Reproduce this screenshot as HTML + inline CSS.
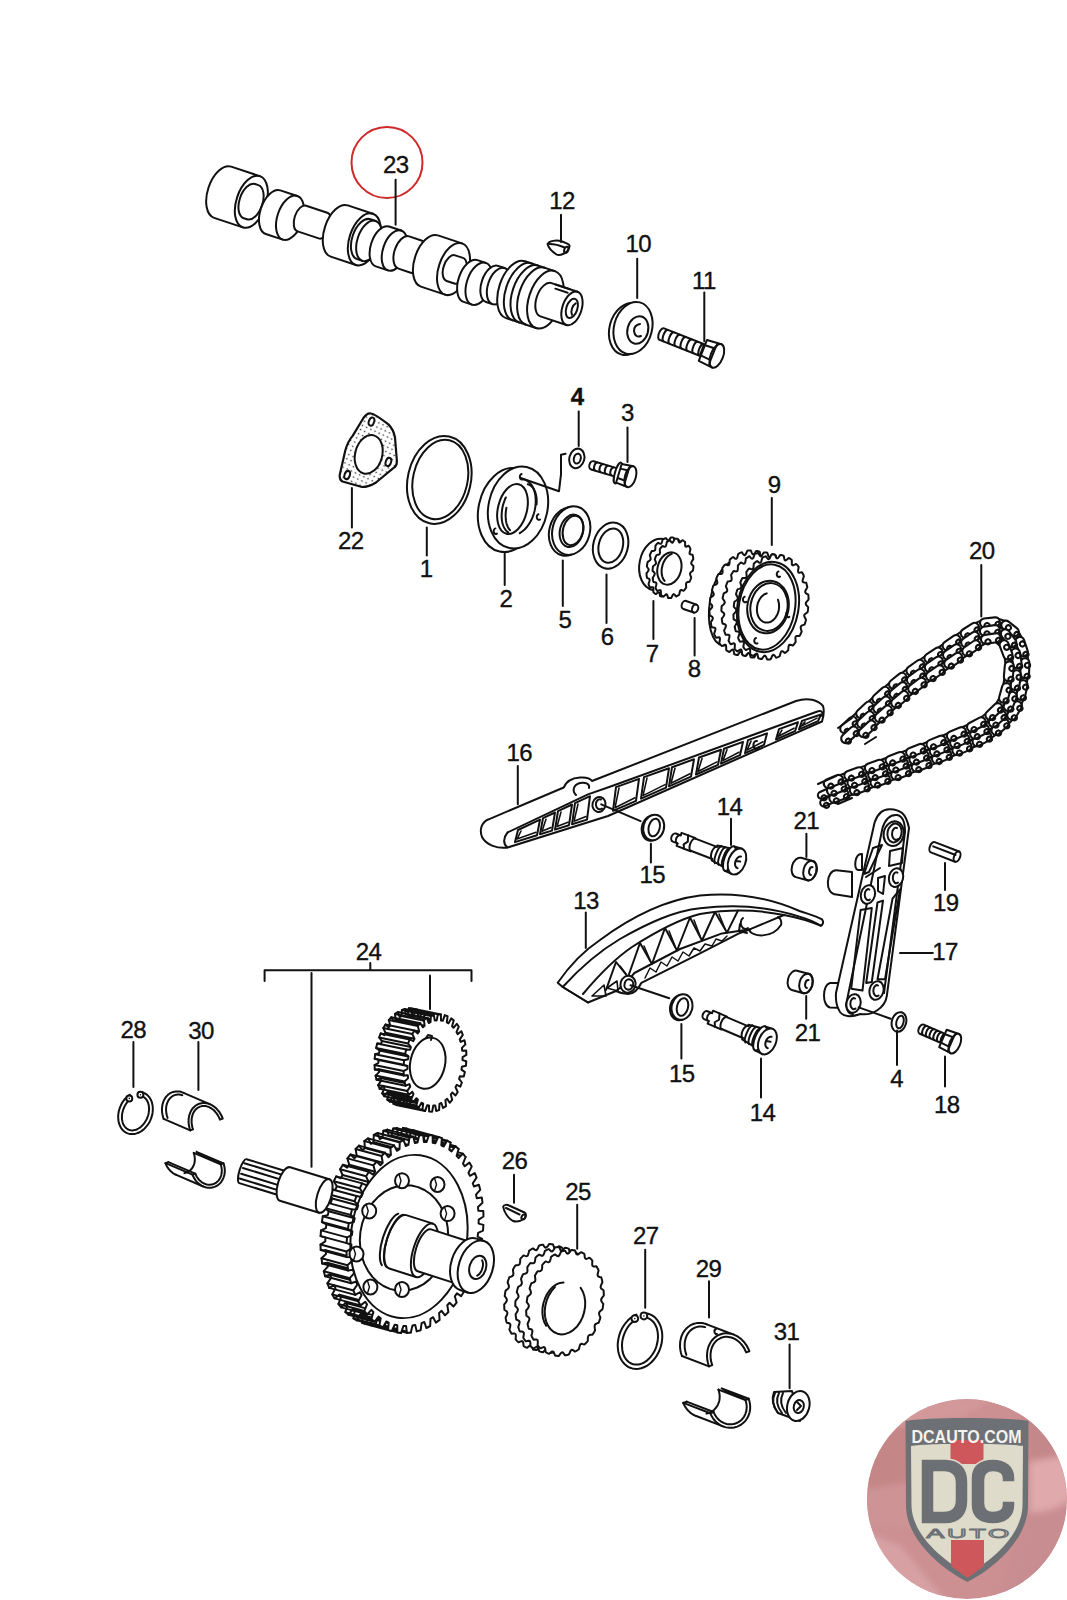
<!DOCTYPE html>
<html><head><meta charset="utf-8"><style>
html,body{margin:0;padding:0;background:#fff;width:1067px;height:1600px;overflow:hidden}
svg{display:block}
</style></head><body>
<svg width="1067" height="1600" viewBox="0 0 1067 1600">
<g fill="none" stroke="#111" stroke-width="2" stroke-linejoin="round" stroke-linecap="round">
<circle cx="387" cy="162.5" r="35.5" stroke="#cf2a2a" stroke-width="2"/>
<path d="M547.5,244 C549,241 556,239.5 562,241.5 C566,243 570,244 569.6,246 C569,249 568,252 564,253.5 C561,255 558,255.5 556.5,254.5 C552,251.5 548.5,248 547.5,244 Z" fill="#fff"/>
<path d="M549.5,244 C554,244 560,245.5 564.5,247.5"/>
<ellipse cx="566.3" cy="249.8" rx="2" ry="3.2" transform="rotate(20 566.3 249.8)"/>
<ellipse cx="628.5" cy="329" rx="19" ry="26.5" transform="rotate(15 628.5 329)" fill="#fff"/>
<ellipse cx="633" cy="328" rx="19" ry="26.5" transform="rotate(15 633 328)" fill="#fff"/>
<ellipse cx="637.8" cy="330" rx="10.3" ry="14" transform="rotate(15 637.8 330)"/>
<path d="M640,324 Q634,325 634,331 Q635,338 641,336"/>
<g transform="translate(659 333) rotate(21.6)">
<path d="M3,-6.2 L46.2,-6.2 L46.2,6.2 L3,6.2 A3,6.2 0 0 1 3,-6.2 Z" fill="#fff"/>
<path d="M7.2,-6 A2.3,5.9 0 0 0 7.2,6"/>
<path d="M13.6,-6 A2.3,5.9 0 0 0 13.6,6"/>
<path d="M20,-6 A2.3,5.9 0 0 0 20,6"/>
<path d="M26.4,-6 A2.3,5.9 0 0 0 26.4,6"/>
<path d="M32.8,-6 A2.3,5.9 0 0 0 32.8,6"/>
<path d="M39.2,-6 A2.3,5.9 0 0 0 39.2,6"/>
<path d="M45.6,-6 A2.3,5.9 0 0 0 45.6,6"/>
<path d="M47.2,-11.2 L62.2,-12.5 L62.2,12.5 L47.2,11.2 Z" fill="#fff"/>
<ellipse cx="62.2" cy="0" rx="6.2" ry="12.5" fill="#fff"/>
<path d="M48.2,-5.6 L57.9,-6.2 M48.2,5.6 L57.9,6.2 M58.5,-11.9 L57.9,-6.2 L57.9,6.2 L58.5,11.9"/>
</g>
<defs><pattern id="dots" width="4.6" height="4.6" patternUnits="userSpaceOnUse" patternTransform="rotate(25)"><circle cx="2.3" cy="2.3" r="0.8" fill="#222" stroke="none"/></pattern></defs>
<path d="M363,418.7 C366,414 368,413 371,413.5 C375,414 380,418 388.4,424.4 C392,428 394,432 395,437.5 L396.9,461 C397,464 395.5,467 393,468.4 L376,482.5 C372,485 367,487 362,487 L342.5,481.5 C340,480 339.5,477 339.7,475 L345.3,450.6 C347,444 349,440 352.8,435.6 Z" fill="#fff" stroke="none"/>
<path d="M363,418.7 C366,414 368,413 371,413.5 C375,414 380,418 388.4,424.4 C392,428 394,432 395,437.5 L396.9,461 C397,464 395.5,467 393,468.4 L376,482.5 C372,485 367,487 362,487 L342.5,481.5 C340,480 339.5,477 339.7,475 L345.3,450.6 C347,444 349,440 352.8,435.6 Z" fill="url(#dots)" stroke="none"/>
<path d="M363,418.7 C366,414 368,413 371,413.5 C375,414 380,418 388.4,424.4 C392,428 394,432 395,437.5 L396.9,461 C397,464 395.5,467 393,468.4 L376,482.5 C372,485 367,487 362,487 L342.5,481.5 C340,480 339.5,477 339.7,475 L345.3,450.6 C347,444 349,440 352.8,435.6 Z" stroke-width="2.2"/>
<ellipse cx="368.7" cy="454.4" rx="13.5" ry="19.7" transform="rotate(15 368.7 454.4)" fill="#fff"/>
<ellipse cx="371.5" cy="421.6" rx="2.6" ry="4.2" transform="rotate(20 371.5 421.6)" fill="#fff"/>
<ellipse cx="388.4" cy="461.9" rx="2.6" ry="4.2" transform="rotate(20 388.4 461.9)" fill="#fff"/>
<ellipse cx="347.2" cy="475" rx="2.6" ry="4.2" transform="rotate(20 347.2 475)" fill="#fff"/>
<ellipse cx="439.3" cy="479.9" rx="31.5" ry="44.5" transform="rotate(13 439.3 479.9)"/>
<ellipse cx="440.3" cy="479.5" rx="27.2" ry="40.2" transform="rotate(13 440.3 479.5)"/>
<ellipse cx="508.5" cy="510" rx="30" ry="42.5" transform="rotate(12 508.5 510)" fill="#fff"/>
<ellipse cx="518" cy="507.5" rx="29.5" ry="41.5" transform="rotate(12 518 507.5)" fill="#fff"/>
<ellipse cx="512.5" cy="509" rx="14.5" ry="25.5" transform="rotate(14 512.5 509)"/>
<path d="M505.8,497.5 L504.9,499.5 L504.2,501.5 L503.5,503.5 L502.9,505.6 L502.4,507.7 L502.1,509.9 L501.8,512 L501.7,514.1 L501.6,516.2 L501.7,518.2 L501.9,520.1 L502.2,522 L502.6,523.8 L503.1,525.4 L503.8,526.9 L504.5,528.3 L505.3,529.6 L506.2,530.6 L507.1,531.6 L508.2,532.3"/>
<path d="M506.4,507.8 L506.1,509.8 L505.8,511.7 L505.7,513.6 L505.6,515.5 L505.7,517.4 L505.8,519.2 L506,520.9 L506.3,522.5 L506.7,524.1 L507.2,525.5 L507.8,526.9 L508.4,528.1 L509.2,529.2 L510,530.2"/>
<path d="M522.3,479.1 L524.7,479.6 L527,480.6 L529,482.1 L530.9,484.1 L532.4,486.4 L533.7,489.2 L534.7,492.2 L535.4,495.6 L535.7,499.1 L535.7,502.8 L535.4,506.6 L534.7,510.4 L533.7,514.1 L532.4,517.7 L530.8,521.1 L528.9,524.2 L526.9,527 L524.6,529.5 L522.2,531.5 L519.8,533.1"/>
<path d="M527.7,484.2 L529.4,484.8 L531,485.9 L532.5,487.2 L533.7,488.9 L534.8,491 L535.6,493.3 L536.2,495.8 L536.6,498.5 L536.7,501.4 L536.6,504.4"/>
<path d="M521.6,474 a2.2,2.8 0 1 0 1.5,5.2"/>
<path d="M538.5,514.3 a2.2,2.8 0 1 0 1.5,5.2"/>
<path d="M495.4,528.4 a2.2,2.8 0 1 0 1.5,5.2"/>
<ellipse cx="576.8" cy="458.4" rx="7.5" ry="9.9" transform="rotate(15 576.8 458.4)" fill="#fff"/>
<ellipse cx="577.3" cy="458.6" rx="3.4" ry="5" transform="rotate(15 577.3 458.6)"/>
<g transform="translate(589.5 464.5) rotate(16.6)">
<path d="M3,-4.3 L29.7,-4.3 L29.7,4.3 L3,4.3 A3,4.3 0 0 1 3,-4.3 Z" fill="#fff"/>
<path d="M6.8,-4 A2.3,4.1 0 0 0 6.8,4"/>
<path d="M12.5,-4 A2.3,4.1 0 0 0 12.5,4"/>
<path d="M18.1,-4 A2.3,4.1 0 0 0 18.1,4"/>
<path d="M23.8,-4 A2.3,4.1 0 0 0 23.8,4"/>
<path d="M29.4,-4 A2.3,4.1 0 0 0 29.4,4"/>
<ellipse cx="29.7" cy="0" rx="3" ry="10.8" fill="#fff"/>
<path d="M30.7,-9.7 L42.7,-10.8 L42.7,10.8 L30.7,9.7 Z" fill="#fff"/>
<ellipse cx="42.7" cy="0" rx="5.4" ry="10.8" fill="#fff"/>
<path d="M31.7,-4.9 L39,-5.4 M31.7,4.9 L39,5.4 M39.5,-10.3 L39,-5.4 L39,5.4 L39.5,10.3"/>
</g>
<ellipse cx="568" cy="531.5" rx="18.7" ry="24.6" transform="rotate(15 568 531.5)" fill="#fff"/>
<ellipse cx="571.2" cy="530.6" rx="18.7" ry="24.6" transform="rotate(15 571.2 530.6)" fill="#fff"/>
<ellipse cx="571.5" cy="530.8" rx="11.5" ry="16.5" transform="rotate(15 571.5 530.8)"/>
<ellipse cx="573" cy="530.4" rx="10" ry="15" transform="rotate(15 573 530.4)"/>
<ellipse cx="610.6" cy="545.6" rx="17.3" ry="23.4" transform="rotate(15 610.6 545.6)" fill="#fff"/>
<ellipse cx="610.8" cy="545.6" rx="12" ry="17.5" transform="rotate(15 610.8 545.6)"/>
<ellipse cx="658" cy="564.5" rx="18.5" ry="26" transform="rotate(12 658 564.5)" fill="#fff"/>
<path d="M683.4,574.6 L683.4,575.7 L683.7,577.1 L684.2,578.8 L683.8,579.8 L683.3,580.9 L682.8,581.9 L682.2,582.9 L680.9,583 L679.8,583.2 L679.1,583.7 L678.7,584.8 L678.6,586.4 L678.6,588.2 L677.9,589.1 L677.3,589.8 L676.6,590.6 L675.8,591.2 L674.7,590.6 L673.7,590.2 L672.9,590.3 L672.3,591.2 L671.8,592.7 L671.3,594.5 L670.5,595 L669.7,595.3 L668.9,595.6 L668.1,595.9 L667.2,594.7 L666.5,593.7 L665.8,593.3 L665,593.9 L664.2,595.1 L663.3,596.6 L662.5,596.6 L661.7,596.5 L660.9,596.4 L660.1,596.1 L659.8,594.5 L659.4,593.1 L658.9,592.4 L658.1,592.5 L657,593.2 L655.8,594.1 L655.1,593.7 L654.5,593.2 L653.9,592.6 L653.3,592 L653.4,590.1 L653.5,588.5 L653.2,587.5 L652.5,587.2 L651.4,587.3 L650.1,587.6 L649.6,586.8 L649.2,585.9 L648.8,585 L648.5,584 L649.1,582.2 L649.6,580.7 L649.6,579.6 L649.1,578.8 L648.1,578.4 L647,577.9 L646.8,576.8 L646.6,575.7 L646.6,574.6 L646.5,573.4 L647.5,572 L648.3,570.8 L648.7,569.7 L648.4,568.7 L647.7,567.7 L646.9,566.5 L647,565.4 L647.2,564.2 L647.4,563 L647.7,561.9 L648.9,561.1 L650,560.3 L650.6,559.4 L650.6,558.3 L650.3,556.9 L649.8,555.2 L650.2,554.2 L650.7,553.1 L651.2,552.1 L651.8,551.1 L653.1,551 L654.2,550.8 L654.9,550.3 L655.3,549.2 L655.4,547.6 L655.4,545.8 L656.1,544.9 L656.7,544.2 L657.4,543.4 L658.2,542.8 L659.3,543.4 L660.3,543.8 L661.1,543.7 L661.7,542.8 L662.2,541.3 L662.7,539.5 L663.5,539 L664.3,538.7 L665.1,538.4 L665.9,538.1 L666.8,539.3 L667.5,540.3 L668.2,540.7 L669,540.1 L669.8,538.9 L670.7,537.4 L671.5,537.4 L672.3,537.5 L673.1,537.6 L673.9,537.9 L674.2,539.5 L674.6,540.9 L675.1,541.6 L675.9,541.5 L677,540.8 L678.2,539.9 L678.9,540.3 L679.5,540.8 L680.1,541.4 L680.7,542 L680.6,543.9 L680.5,545.5 L680.8,546.5 L681.5,546.8 L682.6,546.7 L683.9,546.4 L684.4,547.2 L684.8,548.1 L685.2,549 L685.5,550 L684.9,551.8 L684.4,553.3 L684.4,554.4 L684.9,555.2 L685.9,555.6 L687,556.1 L687.2,557.2 L687.4,558.3 L687.4,559.4 L687.5,560.6 L686.5,562 L685.7,563.2 L685.3,564.3 L685.6,565.3 L686.3,566.3 L687.1,567.5 L687,568.6 L686.8,569.8 L686.6,571 L686.3,572.1 L685.1,572.9 L684,573.7Z" fill="#fff"/>
<path d="M690,573.4 L690.1,574.5 L690.6,575.9 L691.2,577.4 L690.9,578.5 L690.5,579.6 L690,580.7 L689.5,581.7 L688.2,582 L687,582.3 L686.3,582.9 L686,584 L686.1,585.6 L686.2,587.5 L685.6,588.4 L685,589.2 L684.3,590.1 L683.6,590.8 L682.4,590.3 L681.3,590 L680.5,590.2 L680,591.1 L679.6,592.8 L679.2,594.7 L678.5,595.2 L677.7,595.7 L676.9,596.1 L676.1,596.5 L675.2,595.3 L674.4,594.4 L673.6,594.1 L672.9,594.8 L672.1,596.2 L671.3,597.9 L670.5,598 L669.7,598 L668.9,598 L668.1,597.9 L667.6,596.2 L667.2,594.9 L666.6,594.2 L665.8,594.5 L664.8,595.4 L663.6,596.6 L662.9,596.3 L662.2,595.8 L661.5,595.4 L660.9,594.8 L660.9,592.9 L660.9,591.3 L660.6,590.3 L659.8,590.1 L658.7,590.5 L657.3,591 L656.8,590.3 L656.3,589.5 L655.9,588.6 L655.5,587.7 L656,585.9 L656.4,584.2 L656.4,583.1 L655.8,582.5 L654.8,582.2 L653.5,582 L653.2,581 L653,579.9 L652.8,578.8 L652.7,577.7 L653.7,576.2 L654.5,574.8 L654.8,573.7 L654.5,572.7 L653.6,571.8 L652.6,570.9 L652.6,569.7 L652.7,568.6 L652.9,567.4 L653.1,566.2 L654.3,565.3 L655.4,564.4 L656,563.4 L655.9,562.3 L655.4,560.9 L654.8,559.4 L655.1,558.3 L655.5,557.2 L656,556.1 L656.5,555.1 L657.8,554.8 L659,554.5 L659.7,553.9 L660,552.8 L659.9,551.2 L659.8,549.3 L660.4,548.4 L661,547.6 L661.7,546.7 L662.4,546 L663.6,546.5 L664.7,546.8 L665.5,546.6 L666,545.7 L666.4,544 L666.8,542.1 L667.5,541.6 L668.3,541.1 L669.1,540.7 L669.9,540.3 L670.8,541.5 L671.6,542.4 L672.4,542.7 L673.1,542 L673.9,540.6 L674.7,538.9 L675.5,538.8 L676.3,538.8 L677.1,538.8 L677.9,538.9 L678.4,540.6 L678.8,541.9 L679.4,542.6 L680.2,542.3 L681.2,541.4 L682.4,540.2 L683.1,540.5 L683.8,541 L684.5,541.4 L685.1,542 L685.1,543.9 L685.1,545.5 L685.4,546.5 L686.2,546.7 L687.3,546.3 L688.7,545.8 L689.2,546.5 L689.7,547.3 L690.1,548.2 L690.5,549.1 L690,550.9 L689.6,552.6 L689.6,553.7 L690.2,554.3 L691.2,554.6 L692.5,554.8 L692.8,555.8 L693,556.9 L693.2,558 L693.3,559.1 L692.3,560.6 L691.5,562 L691.2,563.1 L691.5,564.1 L692.4,565 L693.4,565.9 L693.4,567.1 L693.3,568.2 L693.1,569.4 L692.9,570.6 L691.7,571.5 L690.6,572.4Z" fill="#fff"/>
<ellipse cx="669.4" cy="568.5" rx="11.8" ry="16.4" transform="rotate(15 669.4 568.5)"/>
<path d="M664.6,580.9 L663.6,579.6 L662.8,578 L662.2,576.2 L661.8,574.3 L661.6,572.2 L661.6,570.1 L661.9,567.9 L662.4,565.8 L663,563.7 L663.9,561.7 L664.9,559.8 L666.1,558.2 L667.4,556.7 L668.8,555.5 L670.3,554.5 L671.8,553.8"/>
<g transform="translate(681.9 604) rotate(19)"><path d="M3,-4.2 L14,-4.2 A3,4.2 0 0 1 14,4.2 L3,4.2 A3,4.2 0 0 1 3,-4.2 Z" fill="#fff"/><path d="M14,-4.2 A3,4.2 0 0 0 14,4.2"/></g>
<ellipse cx="730" cy="603" rx="20" ry="43" transform="rotate(10 730 603)" fill="#fff"/>
<path d="M780.2,611.3 L780.4,612.6 L781.1,614.1 L782,615.7 L781.7,617 L781.3,618.2 L781,619.4 L780.5,620.6 L778.9,621.1 L777.6,621.7 L776.8,622.6 L776.7,623.9 L777.1,625.6 L777.7,627.6 L777.2,628.7 L776.7,629.8 L776.1,630.9 L775.5,631.9 L773.9,631.9 L772.6,632 L771.7,632.6 L771.4,633.9 L771.5,635.8 L771.7,638 L771,638.9 L770.3,639.9 L769.6,640.8 L768.8,641.6 L767.4,641 L766,640.7 L765.1,641 L764.6,642.2 L764.4,644.1 L764.2,646.3 L763.4,647.1 L762.6,647.8 L761.8,648.4 L760.9,649 L759.6,647.9 L758.4,647.2 L757.5,647.2 L756.8,648.2 L756.3,650 L755.7,652.2 L754.8,652.7 L753.9,653.1 L753.1,653.4 L752.1,653.7 L751.1,652.2 L750.1,651.1 L749.3,650.7 L748.4,651.5 L747.6,653.2 L746.7,655.2 L745.8,655.4 L744.9,655.5 L744,655.5 L743.1,655.5 L742.4,653.7 L741.7,652.2 L740.9,651.6 L740,652 L738.9,653.4 L737.7,655.1 L736.9,655 L736,654.8 L735.1,654.6 L734.3,654.2 L733.9,652.2 L733.5,650.4 L732.9,649.5 L732,649.7 L730.7,650.7 L729.3,652 L728.5,651.6 L727.7,651.1 L726.9,650.6 L726.2,650 L726.2,647.8 L726.1,645.9 L725.7,644.8 L724.8,644.7 L723.4,645.3 L721.9,646.1 L721.2,645.4 L720.5,644.7 L719.9,643.9 L719.3,643 L719.7,640.8 L720,638.9 L719.7,637.7 L718.9,637.2 L717.5,637.4 L716,637.7 L715.4,636.8 L714.9,635.8 L714.5,634.8 L714.1,633.7 L714.8,631.6 L715.4,629.8 L715.4,628.5 L714.7,627.8 L713.4,627.5 L711.8,627.3 L711.5,626.2 L711.2,625 L710.9,623.8 L710.7,622.6 L711.8,620.8 L712.6,619.2 L712.9,617.9 L712.3,616.9 L711.1,616.2 L709.7,615.4 L709.6,614.2 L709.5,612.9 L709.4,611.7 L709.5,610.4 L710.8,608.9 L711.9,607.6 L712.3,606.4 L712,605.2 L711,604.1 L709.8,602.8 L709.9,601.6 L710,600.3 L710.2,599 L710.4,597.8 L711.9,596.7 L713.2,595.7 L713.8,594.7 L713.6,593.4 L712.9,591.9 L712,590.3 L712.3,589 L712.7,587.8 L713,586.6 L713.5,585.4 L715.1,584.9 L716.4,584.3 L717.2,583.4 L717.3,582.1 L716.9,580.4 L716.3,578.4 L716.8,577.3 L717.3,576.2 L717.9,575.1 L718.5,574.1 L720.1,574.1 L721.4,574 L722.3,573.4 L722.6,572.1 L722.5,570.2 L722.3,568 L723,567.1 L723.7,566.1 L724.4,565.2 L725.2,564.4 L726.6,565 L728,565.3 L728.9,565 L729.4,563.8 L729.6,561.9 L729.8,559.7 L730.6,558.9 L731.4,558.2 L732.2,557.6 L733.1,557 L734.4,558.1 L735.6,558.8 L736.5,558.8 L737.2,557.8 L737.7,556 L738.3,553.8 L739.2,553.3 L740.1,552.9 L740.9,552.6 L741.9,552.3 L742.9,553.8 L743.9,554.9 L744.7,555.3 L745.6,554.5 L746.4,552.8 L747.3,550.8 L748.2,550.6 L749.1,550.5 L750,550.5 L750.9,550.5 L751.6,552.3 L752.3,553.8 L753.1,554.4 L754,554 L755.1,552.6 L756.3,550.9 L757.1,551 L758,551.2 L758.9,551.4 L759.7,551.8 L760.1,553.8 L760.5,555.6 L761.1,556.5 L762,556.3 L763.3,555.3 L764.7,554 L765.5,554.4 L766.3,554.9 L767.1,555.4 L767.8,556 L767.8,558.2 L767.9,560.1 L768.3,561.2 L769.2,561.3 L770.6,560.7 L772.1,559.9 L772.8,560.6 L773.5,561.3 L774.1,562.1 L774.7,563 L774.3,565.2 L774,567.1 L774.3,568.3 L775.1,568.8 L776.5,568.6 L778,568.3 L778.6,569.2 L779.1,570.2 L779.5,571.2 L779.9,572.3 L779.2,574.4 L778.6,576.2 L778.6,577.5 L779.3,578.2 L780.6,578.5 L782.2,578.7 L782.5,579.8 L782.8,581 L783.1,582.2 L783.3,583.4 L782.2,585.2 L781.4,586.8 L781.1,588.1 L781.7,589.1 L782.9,589.8 L784.3,590.6 L784.4,591.8 L784.5,593.1 L784.6,594.3 L784.5,595.6 L783.2,597.1 L782.1,598.4 L781.7,599.6 L782,600.8 L783,601.9 L784.2,603.2 L784.1,604.4 L784,605.7 L783.8,607 L783.6,608.2 L782.1,609.3 L780.8,610.3Z" fill="#fff"/>
<path d="M790.8,619 L790.8,620.3 L791.4,621.9 L792.1,623.7 L791.7,625 L791.3,626.1 L790.8,627.3 L790.3,628.4 L788.7,628.7 L787.3,629 L786.5,629.8 L786.3,631.1 L786.5,632.9 L786.9,634.9 L786.4,636 L785.7,637 L785.1,638 L784.4,639 L782.8,638.7 L781.5,638.6 L780.6,639 L780.2,640.3 L780.1,642.2 L780.1,644.4 L779.4,645.3 L778.6,646.1 L777.8,646.9 L777,647.6 L775.6,646.8 L774.4,646.2 L773.4,646.4 L772.8,647.5 L772.4,649.4 L772.1,651.6 L771.2,652.2 L770.4,652.7 L769.5,653.3 L768.6,653.7 L767.4,652.4 L766.4,651.4 L765.5,651.3 L764.7,652.2 L764,653.9 L763.3,656 L762.4,656.4 L761.5,656.6 L760.6,656.9 L759.7,657 L758.8,655.3 L757.9,654 L757.1,653.5 L756.2,654.1 L755.3,655.7 L754.2,657.5 L753.3,657.6 L752.4,657.5 L751.5,657.4 L750.7,657.3 L750.1,655.3 L749.5,653.7 L748.8,652.9 L747.9,653.2 L746.8,654.5 L745.5,656 L744.6,655.7 L743.8,655.4 L742.9,655 L742.1,654.5 L742,652.3 L741.7,650.5 L741.2,649.5 L740.3,649.6 L739,650.4 L737.5,651.4 L736.7,650.9 L736,650.3 L735.3,649.6 L734.6,648.9 L734.8,646.6 L734.9,644.7 L734.6,643.6 L733.7,643.3 L732.3,643.7 L730.7,644.2 L730.1,643.4 L729.5,642.5 L729,641.6 L728.5,640.7 L729.1,638.5 L729.5,636.6 L729.4,635.4 L728.6,634.8 L727.2,634.7 L725.7,634.7 L725.2,633.7 L724.8,632.6 L724.4,631.5 L724.1,630.4 L725.1,628.4 L725.8,626.7 L725.9,625.4 L725.3,624.5 L724,624 L722.5,623.5 L722.3,622.3 L722.1,621.1 L721.9,619.9 L721.8,618.7 L723,617 L724,615.5 L724.3,614.2 L723.9,613.2 L722.8,612.2 L721.5,611.2 L721.4,609.9 L721.5,608.7 L721.5,607.4 L721.7,606.1 L723.1,604.9 L724.3,603.7 L724.8,602.5 L724.5,601.3 L723.7,600 L722.6,598.5 L722.8,597.3 L723.1,596 L723.3,594.8 L723.7,593.5 L725.2,592.7 L726.5,592 L727.2,591 L727.2,589.7 L726.6,588.1 L725.9,586.3 L726.3,585 L726.7,583.9 L727.2,582.7 L727.7,581.6 L729.3,581.3 L730.7,581 L731.5,580.2 L731.7,578.9 L731.5,577.1 L731.1,575.1 L731.6,574 L732.3,573 L732.9,572 L733.6,571 L735.2,571.3 L736.5,571.4 L737.4,571 L737.8,569.7 L737.9,567.8 L737.9,565.6 L738.6,564.7 L739.4,563.9 L740.2,563.1 L741,562.4 L742.4,563.2 L743.6,563.8 L744.6,563.6 L745.2,562.5 L745.6,560.6 L745.9,558.4 L746.8,557.8 L747.6,557.3 L748.5,556.7 L749.4,556.3 L750.6,557.6 L751.6,558.6 L752.5,558.7 L753.3,557.8 L754,556.1 L754.7,554 L755.6,553.6 L756.5,553.4 L757.4,553.1 L758.3,553 L759.2,554.7 L760.1,556 L760.9,556.5 L761.8,555.9 L762.7,554.3 L763.8,552.5 L764.7,552.4 L765.6,552.5 L766.5,552.6 L767.3,552.7 L767.9,554.7 L768.5,556.3 L769.2,557.1 L770.1,556.8 L771.2,555.5 L772.5,554 L773.4,554.3 L774.2,554.6 L775.1,555 L775.9,555.5 L776,557.7 L776.3,559.5 L776.8,560.5 L777.7,560.4 L779,559.6 L780.5,558.6 L781.3,559.1 L782,559.7 L782.7,560.4 L783.4,561.1 L783.2,563.4 L783.1,565.3 L783.4,566.4 L784.3,566.7 L785.7,566.3 L787.3,565.8 L787.9,566.6 L788.5,567.5 L789,568.4 L789.5,569.3 L788.9,571.5 L788.5,573.4 L788.6,574.6 L789.4,575.2 L790.8,575.3 L792.3,575.3 L792.8,576.3 L793.2,577.4 L793.6,578.5 L793.9,579.6 L792.9,581.6 L792.2,583.3 L792.1,584.6 L792.7,585.5 L794,586 L795.5,586.5 L795.7,587.7 L795.9,588.9 L796.1,590.1 L796.2,591.3 L795,593 L794,594.5 L793.7,595.8 L794.1,596.8 L795.2,597.8 L796.5,598.8 L796.6,600.1 L796.5,601.3 L796.5,602.6 L796.3,603.9 L794.9,605.1 L793.7,606.3 L793.2,607.5 L793.5,608.7 L794.3,610 L795.4,611.5 L795.2,612.7 L794.9,614 L794.7,615.2 L794.3,616.5 L792.8,617.3 L791.5,618Z" fill="#fff"/>
<path d="M804.2,615.3 L804.4,616.6 L805.1,618.1 L806,619.7 L805.7,621 L805.3,622.2 L805,623.4 L804.5,624.6 L802.9,625.1 L801.6,625.7 L800.8,626.6 L800.7,627.9 L801.1,629.6 L801.7,631.6 L801.2,632.7 L800.7,633.8 L800.1,634.9 L799.5,635.9 L797.9,635.9 L796.6,636 L795.7,636.6 L795.4,637.9 L795.5,639.8 L795.7,642 L795,642.9 L794.3,643.9 L793.6,644.8 L792.8,645.6 L791.4,645 L790,644.7 L789.1,645 L788.6,646.2 L788.4,648.1 L788.2,650.3 L787.4,651.1 L786.6,651.8 L785.8,652.4 L784.9,653 L783.6,651.9 L782.4,651.2 L781.5,651.2 L780.8,652.2 L780.3,654 L779.7,656.2 L778.8,656.7 L777.9,657.1 L777.1,657.4 L776.1,657.7 L775.1,656.2 L774.1,655.1 L773.3,654.7 L772.4,655.5 L771.6,657.2 L770.7,659.2 L769.8,659.4 L768.9,659.5 L768,659.5 L767.1,659.5 L766.4,657.7 L765.7,656.2 L764.9,655.6 L764,656 L762.9,657.4 L761.7,659.1 L760.9,659 L760,658.8 L759.1,658.6 L758.3,658.2 L757.9,656.2 L757.5,654.4 L756.9,653.5 L756,653.7 L754.7,654.7 L753.3,656 L752.5,655.6 L751.7,655.1 L750.9,654.6 L750.2,654 L750.2,651.8 L750.1,649.9 L749.7,648.8 L748.8,648.7 L747.4,649.3 L745.9,650.1 L745.2,649.4 L744.5,648.7 L743.9,647.9 L743.3,647 L743.7,644.8 L744,642.9 L743.7,641.7 L742.9,641.2 L741.5,641.4 L740,641.7 L739.4,640.8 L738.9,639.8 L738.5,638.8 L738.1,637.7 L738.8,635.6 L739.4,633.8 L739.4,632.5 L738.7,631.8 L737.4,631.5 L735.8,631.3 L735.5,630.2 L735.2,629 L734.9,627.8 L734.7,626.6 L735.8,624.8 L736.6,623.2 L736.9,621.9 L736.3,620.9 L735.1,620.2 L733.7,619.4 L733.6,618.2 L733.5,616.9 L733.4,615.7 L733.5,614.4 L734.8,612.9 L735.9,611.6 L736.3,610.4 L736,609.2 L735,608.1 L733.8,606.8 L733.9,605.6 L734,604.3 L734.2,603 L734.4,601.8 L735.9,600.7 L737.2,599.7 L737.8,598.7 L737.6,597.4 L736.9,595.9 L736,594.3 L736.3,593 L736.7,591.8 L737,590.6 L737.5,589.4 L739.1,588.9 L740.4,588.3 L741.2,587.4 L741.3,586.1 L740.9,584.4 L740.3,582.4 L740.8,581.3 L741.3,580.2 L741.9,579.1 L742.5,578.1 L744.1,578.1 L745.4,578 L746.3,577.4 L746.6,576.1 L746.5,574.2 L746.3,572 L747,571.1 L747.7,570.1 L748.4,569.2 L749.2,568.4 L750.6,569 L752,569.3 L752.9,569 L753.4,567.8 L753.6,565.9 L753.8,563.7 L754.6,562.9 L755.4,562.2 L756.2,561.6 L757.1,561 L758.4,562.1 L759.6,562.8 L760.5,562.8 L761.2,561.8 L761.7,560 L762.3,557.8 L763.2,557.3 L764.1,556.9 L764.9,556.6 L765.9,556.3 L766.9,557.8 L767.9,558.9 L768.7,559.3 L769.6,558.5 L770.4,556.8 L771.3,554.8 L772.2,554.6 L773.1,554.5 L774,554.5 L774.9,554.5 L775.6,556.3 L776.3,557.8 L777.1,558.4 L778,558 L779.1,556.6 L780.3,554.9 L781.1,555 L782,555.2 L782.9,555.4 L783.7,555.8 L784.1,557.8 L784.5,559.6 L785.1,560.5 L786,560.3 L787.3,559.3 L788.7,558 L789.5,558.4 L790.3,558.9 L791.1,559.4 L791.8,560 L791.8,562.2 L791.9,564.1 L792.3,565.2 L793.2,565.3 L794.6,564.7 L796.1,563.9 L796.8,564.6 L797.5,565.3 L798.1,566.1 L798.7,567 L798.3,569.2 L798,571.1 L798.3,572.3 L799.1,572.8 L800.5,572.6 L802,572.3 L802.6,573.2 L803.1,574.2 L803.5,575.2 L803.9,576.3 L803.2,578.4 L802.6,580.2 L802.6,581.5 L803.3,582.2 L804.6,582.5 L806.2,582.7 L806.5,583.8 L806.8,585 L807.1,586.2 L807.3,587.4 L806.2,589.2 L805.4,590.8 L805.1,592.1 L805.7,593.1 L806.9,593.8 L808.3,594.6 L808.4,595.8 L808.5,597.1 L808.6,598.3 L808.5,599.6 L807.2,601.1 L806.1,602.4 L805.7,603.6 L806,604.8 L807,605.9 L808.2,607.2 L808.1,608.4 L808,609.7 L807.8,611 L807.6,612.2 L806.1,613.3 L804.8,614.3Z" fill="#fff"/>
<ellipse cx="768" cy="607" rx="30.5" ry="45.5" transform="rotate(10 768 607)"/>
<ellipse cx="767" cy="607" rx="28" ry="43" transform="rotate(10 767 607)"/>
<ellipse cx="768" cy="607" rx="20.6" ry="26.5" transform="rotate(10 768 607)"/>
<ellipse cx="769" cy="607" rx="18.5" ry="24" transform="rotate(10 769 607)"/>
<path d="M778,599.8 L778.9,603.2 L779.1,606.9 L778.7,610.6 L777.5,614.2 L775.7,617.3 L773.5,619.9 L770.9,621.7 L768.1,622.6 L765.3,622.6 L762.7,621.6 L760.4,619.7 L758.6,617.1 L757.4,613.9 L756.9,610.3 L757.1,606.5 L757.9,602.9 L759.5,599.5 L761.5,596.7 L764,594.5 L766.7,593.3"/>
<path d="M778.5,571.4 a2.2,2.8 0 1 0 1.5,5.2"/>
<path d="M787.8,611.7 a2.2,2.8 0 1 0 1.5,5.2"/>
<path d="M756,638 a2.2,2.8 0 1 0 1.5,5.2"/>
<path d="M744.7,596.7 a2.2,2.8 0 1 0 1.5,5.2"/>
<path d="M503.2,1206.5 C504,1204.5 507,1204.5 509,1205.5 L524.5,1212.5 C526.5,1213.5 526,1216.5 524.5,1218.5 C521,1221 516,1222 513,1221 C508,1218 504,1212 503.2,1206.5 Z" fill="#fff"/>
<path d="M506,1208 L519.5,1214.5"/>
<ellipse cx="523.5" cy="1217" rx="1.8" ry="2.6" transform="rotate(30 523.5 1217)"/>
<path d="M577.1,1306.8 L577.1,1308.2 L577.7,1309.8 L578.4,1311.5 L578,1312.9 L577.6,1314.2 L577.1,1315.5 L576.6,1316.8 L575,1317.4 L573.7,1318 L572.8,1319 L572.6,1320.4 L572.8,1322.2 L573.1,1324.2 L572.5,1325.4 L571.8,1326.6 L571.1,1327.7 L570.4,1328.8 L568.8,1328.8 L567.5,1329 L566.5,1329.7 L566,1331 L565.8,1332.9 L565.8,1335 L565,1336 L564.1,1336.9 L563.3,1337.8 L562.4,1338.6 L560.9,1338.1 L559.6,1337.8 L558.6,1338.1 L557.9,1339.3 L557.4,1341.1 L556.9,1343.2 L555.9,1343.9 L555,1344.5 L554,1345.1 L553,1345.6 L551.7,1344.6 L550.6,1343.9 L549.6,1343.8 L548.7,1344.7 L547.9,1346.3 L547,1348.3 L546,1348.7 L545,1348.9 L544,1349.2 L543,1349.3 L542,1347.9 L541.1,1346.7 L540.1,1346.3 L539.2,1346.8 L538.1,1348.2 L536.9,1349.9 L535.9,1349.9 L534.9,1349.8 L533.9,1349.7 L533,1349.5 L532.3,1347.7 L531.7,1346.1 L530.9,1345.4 L529.9,1345.6 L528.6,1346.6 L527.2,1347.8 L526.3,1347.5 L525.4,1347.1 L524.5,1346.6 L523.6,1346 L523.4,1344 L523.1,1342.2 L522.5,1341.2 L521.5,1341.1 L520.1,1341.6 L518.6,1342.3 L517.8,1341.7 L517,1340.9 L516.3,1340.1 L515.6,1339.2 L515.8,1337.1 L515.8,1335.2 L515.5,1334 L514.6,1333.5 L513.2,1333.6 L511.6,1333.8 L511,1332.8 L510.5,1331.8 L509.9,1330.7 L509.4,1329.6 L510,1327.5 L510.4,1325.6 L510.3,1324.3 L509.6,1323.5 L508.3,1323 L506.8,1322.7 L506.4,1321.5 L506.1,1320.2 L505.8,1319 L505.6,1317.7 L506.5,1315.8 L507.2,1314.1 L507.4,1312.7 L506.9,1311.6 L505.8,1310.7 L504.5,1309.8 L504.3,1308.5 L504.3,1307.1 L504.2,1305.8 L504.2,1304.4 L505.5,1302.8 L506.5,1301.4 L506.9,1300.1 L506.6,1298.8 L505.8,1297.5 L504.7,1296.1 L504.9,1294.7 L505.1,1293.4 L505.3,1292 L505.6,1290.6 L507,1289.5 L508.2,1288.4 L508.9,1287.2 L508.9,1285.8 L508.3,1284.2 L507.6,1282.5 L508,1281.1 L508.4,1279.8 L508.9,1278.5 L509.4,1277.2 L511,1276.6 L512.3,1276 L513.2,1275 L513.4,1273.6 L513.2,1271.8 L512.9,1269.8 L513.5,1268.6 L514.2,1267.4 L514.9,1266.3 L515.6,1265.2 L517.2,1265.2 L518.5,1265 L519.5,1264.3 L520,1263 L520.2,1261.1 L520.2,1259 L521,1258 L521.9,1257.1 L522.7,1256.2 L523.6,1255.4 L525.1,1255.9 L526.4,1256.2 L527.4,1255.9 L528.1,1254.7 L528.6,1252.9 L529.1,1250.8 L530.1,1250.1 L531,1249.5 L532,1248.9 L533,1248.4 L534.3,1249.4 L535.4,1250.1 L536.4,1250.2 L537.3,1249.3 L538.1,1247.7 L539,1245.7 L540,1245.3 L541,1245.1 L542,1244.8 L543,1244.7 L544,1246.1 L544.9,1247.3 L545.9,1247.7 L546.8,1247.2 L547.9,1245.8 L549.1,1244.1 L550.1,1244.1 L551.1,1244.2 L552.1,1244.3 L553,1244.5 L553.7,1246.3 L554.3,1247.9 L555.1,1248.6 L556.1,1248.4 L557.4,1247.4 L558.8,1246.2 L559.7,1246.5 L560.6,1246.9 L561.5,1247.4 L562.4,1248 L562.6,1250 L562.9,1251.8 L563.5,1252.8 L564.5,1252.9 L565.9,1252.4 L567.4,1251.7 L568.2,1252.3 L569,1253.1 L569.7,1253.9 L570.4,1254.8 L570.2,1256.9 L570.2,1258.8 L570.5,1260 L571.4,1260.5 L572.8,1260.4 L574.4,1260.2 L575,1261.2 L575.5,1262.2 L576.1,1263.3 L576.6,1264.4 L576,1266.5 L575.6,1268.4 L575.7,1269.7 L576.4,1270.5 L577.7,1271 L579.2,1271.3 L579.6,1272.5 L579.9,1273.8 L580.2,1275 L580.4,1276.3 L579.5,1278.2 L578.8,1279.9 L578.6,1281.3 L579.1,1282.4 L580.2,1283.3 L581.5,1284.2 L581.7,1285.5 L581.7,1286.9 L581.8,1288.2 L581.8,1289.6 L580.5,1291.2 L579.5,1292.6 L579.1,1293.9 L579.4,1295.2 L580.2,1296.5 L581.3,1297.9 L581.1,1299.3 L580.9,1300.6 L580.7,1302 L580.4,1303.4 L579,1304.5 L577.8,1305.6Z" fill="#fff"/>
<path d="M586.3,1316 L586.1,1317.4 L586.5,1319.1 L587,1321 L586.5,1322.3 L586,1323.5 L585.4,1324.8 L584.8,1325.9 L583.2,1326.3 L581.8,1326.7 L580.9,1327.5 L580.5,1328.9 L580.6,1330.7 L580.7,1332.8 L580,1333.9 L579.2,1335 L578.4,1336 L577.6,1337 L576.1,1336.8 L574.7,1336.7 L573.7,1337.2 L573.1,1338.4 L572.8,1340.3 L572.5,1342.4 L571.6,1343.3 L570.7,1344.1 L569.8,1344.8 L568.8,1345.5 L567.5,1344.7 L566.2,1344.2 L565.2,1344.3 L564.4,1345.3 L563.7,1347.1 L563.1,1349.1 L562.1,1349.7 L561.1,1350.2 L560.1,1350.6 L559.1,1350.9 L557.9,1349.7 L556.9,1348.7 L555.9,1348.4 L555,1349.2 L554,1350.7 L553,1352.5 L552,1352.7 L551,1352.8 L550,1352.9 L549,1352.9 L548.1,1351.2 L547.4,1349.8 L546.5,1349.2 L545.5,1349.7 L544.3,1350.8 L543,1352.3 L542,1352.1 L541.1,1351.9 L540.1,1351.6 L539.2,1351.2 L538.7,1349.2 L538.3,1347.6 L537.6,1346.7 L536.6,1346.7 L535.2,1347.5 L533.8,1348.5 L532.9,1348 L532,1347.4 L531.2,1346.8 L530.4,1346.1 L530.4,1343.9 L530.3,1342.1 L529.8,1341 L528.8,1340.7 L527.5,1341 L525.9,1341.4 L525.2,1340.6 L524.5,1339.7 L523.9,1338.8 L523.3,1337.8 L523.6,1335.6 L523.9,1333.8 L523.7,1332.5 L522.8,1331.8 L521.5,1331.6 L520,1331.5 L519.4,1330.4 L519,1329.3 L518.6,1328.1 L518.2,1326.9 L519,1324.9 L519.5,1323.1 L519.6,1321.7 L518.9,1320.8 L517.7,1320.1 L516.3,1319.5 L516.1,1318.2 L515.9,1316.9 L515.7,1315.6 L515.6,1314.2 L516.7,1312.5 L517.6,1310.9 L517.9,1309.5 L517.5,1308.3 L516.5,1307.2 L515.3,1306.1 L515.3,1304.7 L515.3,1303.3 L515.4,1301.9 L515.6,1300.6 L516.9,1299.2 L518,1297.9 L518.6,1296.6 L518.4,1295.3 L517.7,1293.8 L516.8,1292.3 L517.1,1290.9 L517.4,1289.5 L517.8,1288.2 L518.2,1286.9 L519.7,1286 L521,1285.1 L521.7,1284 L521.9,1282.6 L521.5,1280.9 L521,1279 L521.5,1277.7 L522,1276.5 L522.6,1275.2 L523.2,1274.1 L524.8,1273.7 L526.2,1273.3 L527.1,1272.5 L527.5,1271.1 L527.4,1269.3 L527.3,1267.2 L528,1266.1 L528.8,1265 L529.6,1264 L530.4,1263 L531.9,1263.2 L533.3,1263.3 L534.3,1262.8 L534.9,1261.6 L535.2,1259.7 L535.5,1257.6 L536.4,1256.7 L537.3,1255.9 L538.2,1255.2 L539.2,1254.5 L540.5,1255.3 L541.8,1255.8 L542.8,1255.7 L543.6,1254.7 L544.3,1252.9 L544.9,1250.9 L545.9,1250.3 L546.9,1249.8 L547.9,1249.4 L548.9,1249.1 L550.1,1250.3 L551.1,1251.3 L552.1,1251.6 L553,1250.8 L554,1249.3 L555,1247.5 L556,1247.3 L557,1247.2 L558,1247.1 L559,1247.1 L559.9,1248.8 L560.6,1250.2 L561.5,1250.8 L562.5,1250.3 L563.7,1249.2 L565,1247.7 L566,1247.9 L566.9,1248.1 L567.9,1248.4 L568.8,1248.8 L569.3,1250.8 L569.7,1252.4 L570.4,1253.3 L571.4,1253.3 L572.8,1252.5 L574.2,1251.5 L575.1,1252 L576,1252.6 L576.8,1253.2 L577.6,1253.9 L577.6,1256.1 L577.7,1257.9 L578.2,1259 L579.2,1259.3 L580.5,1259 L582.1,1258.6 L582.8,1259.4 L583.5,1260.3 L584.1,1261.2 L584.7,1262.2 L584.4,1264.4 L584.1,1266.2 L584.3,1267.5 L585.2,1268.2 L586.5,1268.4 L588,1268.5 L588.6,1269.6 L589,1270.7 L589.4,1271.9 L589.8,1273.1 L589,1275.1 L588.5,1276.9 L588.4,1278.3 L589.1,1279.2 L590.3,1279.9 L591.7,1280.5 L591.9,1281.8 L592.1,1283.1 L592.3,1284.4 L592.4,1285.8 L591.3,1287.5 L590.4,1289.1 L590.1,1290.5 L590.5,1291.7 L591.5,1292.8 L592.7,1293.9 L592.7,1295.3 L592.7,1296.7 L592.6,1298.1 L592.4,1299.4 L591.1,1300.8 L590,1302.1 L589.4,1303.4 L589.6,1304.7 L590.3,1306.2 L591.2,1307.7 L590.9,1309.1 L590.6,1310.5 L590.2,1311.8 L589.8,1313.1 L588.3,1314 L587,1314.9Z" fill="#fff"/>
<path d="M599.1,1312.8 L599.1,1314.2 L599.7,1315.8 L600.4,1317.5 L600,1318.9 L599.6,1320.2 L599.1,1321.5 L598.6,1322.8 L597,1323.4 L595.7,1324 L594.8,1325 L594.6,1326.4 L594.8,1328.2 L595.1,1330.2 L594.5,1331.4 L593.8,1332.6 L593.1,1333.7 L592.4,1334.8 L590.8,1334.8 L589.5,1335 L588.5,1335.7 L588,1337 L587.8,1338.9 L587.8,1341 L587,1342 L586.1,1342.9 L585.3,1343.8 L584.4,1344.6 L582.9,1344.1 L581.6,1343.8 L580.6,1344.1 L579.9,1345.3 L579.4,1347.1 L578.9,1349.2 L577.9,1349.9 L577,1350.5 L576,1351.1 L575,1351.6 L573.7,1350.6 L572.6,1349.9 L571.6,1349.8 L570.7,1350.7 L569.9,1352.3 L569,1354.3 L568,1354.7 L567,1354.9 L566,1355.2 L565,1355.3 L564,1353.9 L563.1,1352.7 L562.1,1352.3 L561.2,1352.8 L560.1,1354.2 L558.9,1355.9 L557.9,1355.9 L556.9,1355.8 L555.9,1355.7 L555,1355.5 L554.3,1353.7 L553.7,1352.1 L552.9,1351.4 L551.9,1351.6 L550.6,1352.6 L549.2,1353.8 L548.3,1353.5 L547.4,1353.1 L546.5,1352.6 L545.6,1352 L545.4,1350 L545.1,1348.2 L544.5,1347.2 L543.5,1347.1 L542.1,1347.6 L540.6,1348.3 L539.8,1347.7 L539,1346.9 L538.3,1346.1 L537.6,1345.2 L537.8,1343.1 L537.8,1341.2 L537.5,1340 L536.6,1339.5 L535.2,1339.6 L533.6,1339.8 L533,1338.8 L532.5,1337.8 L531.9,1336.7 L531.4,1335.6 L532,1333.5 L532.4,1331.6 L532.3,1330.3 L531.6,1329.5 L530.3,1329 L528.8,1328.7 L528.4,1327.5 L528.1,1326.2 L527.8,1325 L527.6,1323.7 L528.5,1321.8 L529.2,1320.1 L529.4,1318.7 L528.9,1317.6 L527.8,1316.7 L526.5,1315.8 L526.3,1314.5 L526.3,1313.1 L526.2,1311.8 L526.2,1310.4 L527.5,1308.8 L528.5,1307.4 L528.9,1306.1 L528.6,1304.8 L527.8,1303.5 L526.7,1302.1 L526.9,1300.7 L527.1,1299.4 L527.3,1298 L527.6,1296.6 L529,1295.5 L530.2,1294.4 L530.9,1293.2 L530.9,1291.8 L530.3,1290.2 L529.6,1288.5 L530,1287.1 L530.4,1285.8 L530.9,1284.5 L531.4,1283.2 L533,1282.6 L534.3,1282 L535.2,1281 L535.4,1279.6 L535.2,1277.8 L534.9,1275.8 L535.5,1274.6 L536.2,1273.4 L536.9,1272.3 L537.6,1271.2 L539.2,1271.2 L540.5,1271 L541.5,1270.3 L542,1269 L542.2,1267.1 L542.2,1265 L543,1264 L543.9,1263.1 L544.7,1262.2 L545.6,1261.4 L547.1,1261.9 L548.4,1262.2 L549.4,1261.9 L550.1,1260.7 L550.6,1258.9 L551.1,1256.8 L552.1,1256.1 L553,1255.5 L554,1254.9 L555,1254.4 L556.3,1255.4 L557.4,1256.1 L558.4,1256.2 L559.3,1255.3 L560.1,1253.7 L561,1251.7 L562,1251.3 L563,1251.1 L564,1250.8 L565,1250.7 L566,1252.1 L566.9,1253.3 L567.9,1253.7 L568.8,1253.2 L569.9,1251.8 L571.1,1250.1 L572.1,1250.1 L573.1,1250.2 L574.1,1250.3 L575,1250.5 L575.7,1252.3 L576.3,1253.9 L577.1,1254.6 L578.1,1254.4 L579.4,1253.4 L580.8,1252.2 L581.7,1252.5 L582.6,1252.9 L583.5,1253.4 L584.4,1254 L584.6,1256 L584.9,1257.8 L585.5,1258.8 L586.5,1258.9 L587.9,1258.4 L589.4,1257.7 L590.2,1258.3 L591,1259.1 L591.7,1259.9 L592.4,1260.8 L592.2,1262.9 L592.2,1264.8 L592.5,1266 L593.4,1266.5 L594.8,1266.4 L596.4,1266.2 L597,1267.2 L597.5,1268.2 L598.1,1269.3 L598.6,1270.4 L598,1272.5 L597.6,1274.4 L597.7,1275.7 L598.4,1276.5 L599.7,1277 L601.2,1277.3 L601.6,1278.5 L601.9,1279.8 L602.2,1281 L602.4,1282.3 L601.5,1284.2 L600.8,1285.9 L600.6,1287.3 L601.1,1288.4 L602.2,1289.3 L603.5,1290.2 L603.7,1291.5 L603.7,1292.9 L603.8,1294.2 L603.8,1295.6 L602.5,1297.2 L601.5,1298.6 L601.1,1299.9 L601.4,1301.2 L602.2,1302.5 L603.3,1303.9 L603.1,1305.3 L602.9,1306.6 L602.7,1308 L602.4,1309.4 L601,1310.5 L599.8,1311.6Z" fill="#fff"/>
<path d="M580.6,1287.8 L582.9,1291.7 L584.4,1296.3 L585.2,1301.4 L585.1,1306.7 L584.2,1312.1 L582.5,1317.4 L580.1,1322.2 L577.1,1326.4 L573.5,1329.8 L569.6,1332.4 L565.5,1333.9 L561.4,1334.4 L557.5,1333.7 L553.8,1332 L550.6,1329.3 L548,1325.7 L546.1,1321.3 L545,1316.4 L544.7,1311.2 L545.3,1305.8 L546.7,1300.4 L548.8,1295.4 L551.6,1290.9 L554.9,1287.1"/>
<path d="M546.2,1325.7 L544.2,1322.1 L543,1317.9 L542.4,1313.2 L542.5,1308.3 L543.4,1303.3 L545,1298.5 L547.1,1294 L549.8,1290.1 L553,1286.8 L556.4,1284.4 L560,1282.9 L563.5,1282.5"/>
<path d="M641.5,1313.2 L643.8,1313.1 L646,1313.2 L648.1,1313.7 L650.1,1314.4 L652.1,1315.4 L653.9,1316.6 L655.6,1318.1 L657.1,1319.8 L658.4,1321.8 L659.6,1323.9 L660.6,1326.2 L661.3,1328.7 L661.9,1331.2 L662.2,1333.9 L662.3,1336.7 L662.1,1339.5 L661.8,1342.3 L661.2,1345.1 L660.4,1347.8 L659.4,1350.5 L658.2,1353.1 L656.8,1355.6 L655.2,1357.9 L653.5,1360 L651.7,1362 L649.7,1363.7 L647.7,1365.3 L645.5,1366.5 L643.3,1367.5 L641.1,1368.3 L638.8,1368.7 L636.6,1368.9 L634.4,1368.8 L632.3,1368.4 L630.2,1367.8 L628.2,1366.8 L626.4,1365.6 L624.7,1364.2 L623.2,1362.5 L621.8,1360.6 L620.6,1358.5 L619.6,1356.2 L618.8,1353.8 L618.2,1351.2 L617.9,1348.5 L617.7,1345.8 L617.8,1343 L618.2,1340.2 L618.7,1337.4 L619.5,1334.6 L620.4,1331.9 L621.6,1329.3 L623,1326.8 L624.5,1324.5 L626.2,1322.3 L628,1320.3 L629.9,1318.5 L632,1317 L634.1,1315.7 L636.3,1314.6 L637.4,1318.8 L635.6,1319.7 L633.9,1320.8 L632.2,1322.2 L630.6,1323.7 L629.1,1325.4 L627.7,1327.3 L626.5,1329.3 L625.4,1331.4 L624.4,1333.6 L623.6,1335.9 L622.9,1338.3 L622.4,1340.6 L622.1,1343 L622,1345.4 L622.1,1347.7 L622.3,1349.9 L622.7,1352.1 L623.3,1354.1 L624.1,1356 L625,1357.8 L626.1,1359.4 L627.4,1360.8 L628.7,1362 L630.2,1363 L631.7,1363.7 L633.4,1364.3 L635.1,1364.6 L636.9,1364.6 L638.7,1364.4 L640.5,1364 L642.3,1363.4 L644.1,1362.5 L645.8,1361.4 L647.5,1360.1 L649.1,1358.6 L650.6,1356.9 L652,1355 L653.3,1353.1 L654.5,1351 L655.5,1348.8 L656.3,1346.5 L657,1344.1 L657.5,1341.8 L657.8,1339.4 L658,1337 L657.9,1334.7 L657.7,1332.4 L657.3,1330.3 L656.8,1328.2 L656,1326.3 L655.1,1324.5 L654.1,1322.9 L652.9,1321.4 L651.5,1320.2 L650.1,1319.2 L648.5,1318.4 L646.9,1317.8 L645.2,1317.5 L643.4,1317.4 L641.6,1317.5Z" fill="#fff"/>
<circle cx="643.9" cy="1316" r="3.4" fill="#fff"/>
<circle cx="643.9" cy="1316" r="0.8" fill="#111" stroke="none"/>
<circle cx="634.8" cy="1318.6" r="3.4" fill="#fff"/>
<circle cx="634.8" cy="1318.6" r="0.8" fill="#111" stroke="none"/>
<path d="M139,1091.9 L140.6,1092 L142.2,1092.3 L143.7,1092.8 L145.1,1093.5 L146.4,1094.3 L147.7,1095.4 L148.8,1096.6 L149.8,1097.9 L150.7,1099.4 L151.4,1101 L152,1102.7 L152.4,1104.6 L152.7,1106.5 L152.8,1108.4 L152.8,1110.4 L152.6,1112.4 L152.3,1114.4 L151.7,1116.4 L151.1,1118.4 L150.3,1120.4 L149.4,1122.2 L148.3,1124 L147.1,1125.7 L145.8,1127.2 L144.5,1128.7 L143,1129.9 L141.5,1131.1 L139.9,1132 L138.3,1132.8 L136.6,1133.4 L135,1133.9 L133.3,1134.1 L131.7,1134.1 L130.1,1134 L128.5,1133.6 L127,1133.1 L125.6,1132.4 L124.3,1131.5 L123.1,1130.4 L122,1129.2 L121,1127.8 L120.2,1126.3 L119.5,1124.7 L118.9,1122.9 L118.5,1121.1 L118.3,1119.2 L118.2,1117.2 L118.2,1115.2 L118.5,1113.2 L118.8,1111.2 L119.4,1109.2 L120.1,1107.2 L120.9,1105.3 L121.8,1103.4 L122.9,1101.7 L124.1,1100 L125.4,1098.5 L126.8,1097.1 L128.3,1095.8 L129.8,1094.7 L131.4,1098.2 L130.2,1099.1 L129.1,1100.2 L127.9,1101.3 L126.9,1102.6 L125.9,1104 L125.1,1105.4 L124.3,1107 L123.6,1108.6 L123,1110.2 L122.6,1111.8 L122.2,1113.5 L122,1115.1 L121.9,1116.8 L122,1118.4 L122.1,1119.9 L122.4,1121.4 L122.8,1122.8 L123.3,1124.2 L123.9,1125.4 L124.7,1126.5 L125.5,1127.5 L126.4,1128.3 L127.4,1129 L128.5,1129.6 L129.7,1130 L130.9,1130.3 L132.1,1130.4 L133.4,1130.3 L134.7,1130.1 L136,1129.7 L137.3,1129.2 L138.5,1128.5 L139.8,1127.7 L141,1126.7 L142.2,1125.6 L143.3,1124.4 L144.3,1123.1 L145.2,1121.7 L146.1,1120.3 L146.9,1118.7 L147.5,1117.1 L148.1,1115.5 L148.5,1113.9 L148.8,1112.2 L149,1110.5 L149.1,1108.9 L149,1107.3 L148.8,1105.8 L148.5,1104.3 L148.1,1102.9 L147.6,1101.6 L146.9,1100.4 L146.2,1099.3 L145.3,1098.4 L144.4,1097.5 L143.4,1096.9 L142.3,1096.3 L141.1,1095.9 L139.9,1095.7 L138.6,1095.6Z" fill="#fff"/>
<circle cx="140.4" cy="1094.7" r="3" fill="#fff"/>
<circle cx="140.4" cy="1094.7" r="0.8" fill="#111" stroke="none"/>
<circle cx="129.3" cy="1098.4" r="3" fill="#fff"/>
<circle cx="129.3" cy="1098.4" r="0.8" fill="#111" stroke="none"/>
<g transform="translate(206.5 1124.5) rotate(-20)">
<path d="M-38.3,-20 L-38.3,-21.6 L-38.1,-23.2 L-37.9,-24.8 L-37.6,-26.4 L-37.2,-27.9 L-36.7,-29.4 L-36.1,-30.9 L-35.4,-32.2 L-34.7,-33.6 L-33.8,-34.8 L-32.9,-36 L-32,-37 L-31,-38 L-29.9,-38.9 L-28.8,-39.7 L-27.6,-40.3 L-26.4,-40.9 L-25.2,-41.4 L-23.9,-41.7 L-22.7,-41.9 L-21.4,-42 L-20.1,-42 L-18.9,-41.8 L-17.6,-41.6 L-16.4,-41.2 L-15.1,-40.7 L-14,-40.1 L-12.8,-39.4 L-11.7,-38.5 L-10.7,-37.6 L10.4,-17.6 L10.8,-17.2 L11.2,-16.8 L11.6,-16.3 L12,-15.9 L12.4,-15.4 L12.7,-14.9 L13.1,-14.4 L13.4,-13.9 L13.8,-13.3 L14.1,-12.8 L14.4,-12.2 L14.7,-11.6 L15,-11.1 L15.2,-10.5 L15.5,-9.9 L15.7,-9.2 L15.9,-8.6 L16.1,-8 L16.3,-7.3 L16.5,-6.7 L16.6,-6.1 L16.8,-5.4 L16.9,-4.7 L17,-4.1 L17.1,-3.4 L17.2,-2.7 L17.2,-2 L17.3,-1.4 L17.3,-0.7 L17.3,-0 L14.3,-0 L14.2,-2 L14,-4 L13.6,-5.9 L13.1,-7.7 L12.4,-9.5 L11.6,-11.2 L10.6,-12.7 L9.6,-14.1 L8.4,-15.4 L7.2,-16.5 L5.8,-17.4 L4.4,-18.1 L3,-18.6 L1.5,-18.9 L-0,-19 L-1.5,-18.9 L-3,-18.6 L-4.4,-18.1 L-5.8,-17.4 L-7.1,-16.5 L-8.4,-15.4 L-9.6,-14.1 L-10.6,-12.7 L-11.6,-11.2 L-12.4,-9.5 L-13.1,-7.7 L-13.6,-5.9 L-14,-4 L-14.2,-2 L-14.3,-0 L-38.3,-20 L-38.3,-20 L-38.3,-20 L-38.3,-20 L-38.3,-20 L-38.3,-20 L-38.3,-20 L-38.3,-20 L-38.3,-20 L-38.3,-20 L-38.3,-20 L-38.3,-20 L-38.3,-20 L-38.3,-20 L-38.3,-20 L-38.3,-20 L-38.3,-20 L-38.3,-20 L-38.3,-20 L-38.3,-20 L-38.3,-20 L-38.3,-20 L-38.3,-20 L-38.3,-20 L-38.3,-20 L-38.3,-20 L-38.3,-20 L-38.3,-20 L-38.3,-20 L-38.3,-20 L-38.3,-20Z" fill="#fff" stroke="none"/>
<path d="M-38.3,-20 L-38.2,-22.3 L-38,-24.6 L-37.5,-26.8 L-36.8,-28.9 L-36,-31 L-35,-32.9 L-33.9,-34.7 L-32.6,-36.3 L-31.2,-37.8 L-29.7,-39.1 L-28.1,-40.1 L-26.4,-40.9 L-24.6,-41.5 L-22.8,-41.9 L-21,-42 L-19.2,-41.9 L-17.4,-41.5 L-15.7,-40.9 L-14,-40.1 L-12.4,-39.1 L-10.9,-37.8 L-9.5,-36.3 L-8.2,-34.7 L-7,-32.9 L-6,-31 L-5.2,-28.9 L-4.6,-26.8 L-4.1,-24.6 L-3.8,-22.3 L-3.7,-20 L17.3,-0 L17.2,-2.3 L16.9,-4.6 L16.5,-6.8 L15.8,-8.9 L15,-11 L14,-12.9 L12.9,-14.7 L11.6,-16.3 L10.2,-17.8 L8.6,-19.1 L7,-20.1 L5.3,-20.9 L3.6,-21.5 L1.8,-21.9 L-0,-22 L-1.8,-21.9 L-3.6,-21.5 L-5.3,-20.9 L-7,-20.1 L-8.7,-19.1 L-10.2,-17.8 L-11.6,-16.3 L-12.9,-14.7 L-14,-12.9 L-15,-11 L-15.8,-8.9 L-16.5,-6.8 L-16.9,-4.6 L-17.2,-2.3 L-17.3,0Z" fill="#fff" stroke="none"/>
<path d="M-38.3,-20 L-38.3,-21.6 L-38.1,-23.2 L-37.9,-24.8 L-37.6,-26.4 L-37.2,-27.9 L-36.7,-29.4 L-36.1,-30.9 L-35.4,-32.2 L-34.7,-33.6 L-33.8,-34.8 L-32.9,-36 L-32,-37 L-31,-38 L-29.9,-38.9 L-28.8,-39.7 L-27.6,-40.3 L-26.4,-40.9 L-25.2,-41.4 L-23.9,-41.7 L-22.7,-41.9 L-21.4,-42 L-20.1,-42 L-18.9,-41.8 L-17.6,-41.6 L-16.4,-41.2 L-15.1,-40.7 L-14,-40.1 L-12.8,-39.4 L-11.7,-38.5 L-10.7,-37.6"/>
<path d="M-10.7,-37.6 L10.4,-17.6"/>
<path d="M-38.3,-20 L-17.3,0"/>
<path d="M-34.3,-19.5 L-34.2,-21.5 L-34,-23.5 L-33.6,-25.4 L-33.1,-27.3 L-32.4,-29.1 L-31.6,-30.8 L-30.6,-32.3 L-29.5,-33.7 L-28.3,-35 L-27.1,-36 L-25.7,-36.9 L-24.3,-37.6 L-22.8,-38.1 L-21.3,-38.4 L-19.8,-38.5 L-18.3,-38.4 L-16.8,-38 L-15.4,-37.5 L-14,-36.7 L-12.7,-35.8"/>
<path d="M-17.3,0 L-17.2,-1.7 L-17.1,-3.4 L-16.8,-5.1 L-16.5,-6.8 L-16,-8.4 L-15.4,-10 L-14.8,-11.5 L-14,-12.9 L-13.2,-14.3 L-12.2,-15.6 L-11.2,-16.7 L-10.2,-17.8 L-9,-18.8 L-7.9,-19.6 L-6.6,-20.3 L-5.3,-20.9 L-4,-21.4 L-2.7,-21.7 L-1.4,-21.9 L-0,-22 L1.4,-21.9 L2.7,-21.7 L4,-21.4 L5.3,-20.9 L6.6,-20.3 L7.9,-19.6 L9,-18.8 L10.2,-17.8 L11.2,-16.7 L12.2,-15.6 L13.2,-14.3 L14,-12.9 L14.8,-11.5 L15.4,-10 L16,-8.4 L16.5,-6.8 L16.8,-5.1 L17.1,-3.4 L17.2,-1.7 L17.3,-0 L14.3,-0 L14.3,-1.5 L14.1,-3 L13.9,-4.4 L13.6,-5.9 L13.2,-7.3 L12.7,-8.6 L12.2,-9.9 L11.6,-11.2 L10.9,-12.3 L10.1,-13.4 L9.3,-14.4 L8.4,-15.4 L7.5,-16.2 L6.5,-16.9 L5.5,-17.6 L4.4,-18.1 L3.3,-18.5 L2.2,-18.8 L1.1,-18.9 L-0,-19 L-1.1,-18.9 L-2.2,-18.8 L-3.3,-18.5 L-4.4,-18.1 L-5.5,-17.6 L-6.5,-16.9 L-7.5,-16.2 L-8.4,-15.4 L-9.3,-14.4 L-10.1,-13.4 L-10.9,-12.3 L-11.6,-11.2 L-12.2,-9.9 L-12.7,-8.6 L-13.2,-7.3 L-13.6,-5.9 L-13.9,-4.4 L-14.1,-3 L-14.3,-1.5 L-14.3,0Z" fill="#fff"/>
</g>
<g transform="translate(208 1169) rotate(-20)">
<path d="M-37.9,-20 L-37.9,-19.5 L-37.9,-18.9 L-37.9,-18.4 L-37.8,-17.8 L-37.8,-17.2 L-37.7,-16.7 L-37.6,-16.1 L-37.5,-15.6 L-37.4,-15 L-37.2,-14.5 L-37.1,-14 L-36.9,-13.4 L-36.7,-12.9 L-36.5,-12.4 L-36.3,-11.9 L-36.1,-11.4 L-35.9,-10.9 L-35.6,-10.4 L-35.4,-9.9 L-35.1,-9.4 L-34.8,-9 L-34.6,-8.5 L-34.3,-8.1 L-33.9,-7.6 L-33.6,-7.2 L-33.3,-6.8 L-32.9,-6.4 L-32.6,-6 L-32.2,-5.7 L-31.8,-5.3 L-10.4,14.8 L-9.4,15.6 L-8.4,16.4 L-7.3,17.1 L-6.1,17.6 L-5,18.1 L-3.8,18.5 L-2.6,18.8 L-1.3,18.9 L-0.1,19 L1.1,19 L2.4,18.8 L3.6,18.5 L4.8,18.2 L6,17.7 L7.1,17.2 L8.2,16.5 L9.2,15.7 L10.2,14.9 L11.2,14 L12.1,13 L12.9,11.9 L13.6,10.7 L14.3,9.5 L14.9,8.3 L15.4,7 L15.8,5.6 L16.1,4.2 L16.3,2.8 L16.5,1.4 L16.5,0 L13.5,0 L13.4,1.7 L13.2,3.3 L12.8,4.9 L12.3,6.5 L11.7,8 L10.9,9.4 L10,10.7 L9,11.9 L7.9,12.9 L6.8,13.9 L5.5,14.6 L4.2,15.2 L2.8,15.7 L1.4,15.9 L0,16 L-1.4,15.9 L-2.8,15.7 L-4.2,15.2 L-5.5,14.6 L-6.7,13.9 L-7.9,12.9 L-9,11.9 L-10,10.7 L-10.9,9.4 L-11.7,8 L-12.3,6.5 L-12.8,4.9 L-13.2,3.3 L-13.4,1.7 L-13.5,0 L-37.9,-20 L-37.9,-20 L-37.9,-20 L-37.9,-20 L-37.9,-20 L-37.9,-20 L-37.9,-20 L-37.9,-20 L-37.9,-20 L-37.9,-20 L-37.9,-20 L-37.9,-20 L-37.9,-20 L-37.9,-20 L-37.9,-20 L-37.9,-20 L-37.9,-20 L-37.9,-20 L-37.9,-20 L-37.9,-20 L-37.9,-20 L-37.9,-20 L-37.9,-20 L-37.9,-20 L-37.9,-20 L-37.9,-20 L-37.9,-20 L-37.9,-20 L-37.9,-20 L-37.9,-20 L-37.9,-20Z" fill="#fff" stroke="none"/>
<path d="M-37.9,-20 L-37.8,-18.1 L-37.6,-16.1 L-37.1,-14.2 L-36.5,-12.3 L-35.7,-10.5 L-34.8,-8.9 L-33.7,-7.3 L-32.5,-5.9 L-31.1,-4.7 L-29.7,-3.6 L-28.1,-2.7 L-26.5,-2 L-24.9,-1.5 L-23.2,-1.1 L-21.4,-1 L-19.7,-1.1 L-18,-1.5 L-16.3,-2 L-14.7,-2.7 L-13.2,-3.6 L-11.7,-4.7 L-10.4,-5.9 L-9.2,-7.3 L-8.1,-8.9 L-7.1,-10.5 L-6.4,-12.3 L-5.7,-14.2 L-5.3,-16.1 L-5,-18.1 L-4.9,-20 L16.5,0 L16.4,2 L16.1,4 L15.7,5.9 L15.1,7.7 L14.3,9.5 L13.3,11.2 L12.3,12.7 L11,14.1 L9.7,15.4 L8.2,16.5 L6.7,17.4 L5.1,18.1 L3.4,18.6 L1.7,18.9 L-0,19 L-1.7,18.9 L-3.4,18.6 L-5.1,18.1 L-6.7,17.4 L-8.3,16.5 L-9.7,15.4 L-11,14.1 L-12.3,12.7 L-13.3,11.2 L-14.3,9.5 L-15.1,7.7 L-15.7,5.9 L-16.1,4 L-16.4,2 L-16.5,0Z" fill="#fff" stroke="none"/>
<path d="M-37.9,-20 L-37.9,-19.5 L-37.9,-18.9 L-37.9,-18.4 L-37.8,-17.8 L-37.8,-17.2 L-37.7,-16.7 L-37.6,-16.1 L-37.5,-15.6 L-37.4,-15 L-37.2,-14.5 L-37.1,-14 L-36.9,-13.4 L-36.7,-12.9 L-36.5,-12.4 L-36.3,-11.9 L-36.1,-11.4 L-35.9,-10.9 L-35.6,-10.4 L-35.4,-9.9 L-35.1,-9.4 L-34.8,-9 L-34.6,-8.5 L-34.3,-8.1 L-33.9,-7.6 L-33.6,-7.2 L-33.3,-6.8 L-32.9,-6.4 L-32.6,-6 L-32.2,-5.7 L-31.8,-5.3"/>
<path d="M-31.8,-5.3 L-10.4,14.8"/>
<path d="M-37.9,-20 L-16.5,0"/>
<path d="M-37.9,-20 L-34.9,-20 L-13.5,0"/>
<path d="M-4.9,-20 L16.5,0 M-7.9,-20 L13.5,0 L-4.9,-20"/>
<path d="M-34.9,-20 L-34.9,-20 L-34.9,-20"/>
<path d="M-7.9,-20 L-8,-18.7 L-8.1,-17.3 L-8.4,-15.9 L-8.7,-14.6 L-9.2,-13.3 L-9.7,-12.1 L-10.3,-10.9 L-11,-9.8 L-11.8,-8.8 L-12.7,-7.9 L-13.6,-7 L-14.6,-6.3 L-15.6,-5.6 L-16.7,-5.1 L-17.8,-4.6 L-18.9,-4.3 L-20.1,-4.1 L-21.2,-4 L-22.4,-4.1 L-23.6,-4.2"/>
<path d="M-16.5,0 L-16.4,1.5 L-16.3,3 L-16,4.4 L-15.7,5.9 L-15.2,7.3 L-14.7,8.6 L-14.1,9.9 L-13.3,11.2 L-12.5,12.3 L-11.7,13.4 L-10.7,14.4 L-9.7,15.4 L-8.6,16.2 L-7.5,16.9 L-6.3,17.6 L-5.1,18.1 L-3.9,18.5 L-2.6,18.8 L-1.3,18.9 L0,19 L1.3,18.9 L2.6,18.8 L3.9,18.5 L5.1,18.1 L6.3,17.6 L7.5,16.9 L8.6,16.2 L9.7,15.4 L10.7,14.4 L11.7,13.4 L12.5,12.3 L13.3,11.2 L14.1,9.9 L14.7,8.6 L15.2,7.3 L15.7,5.9 L16,4.4 L16.3,3 L16.4,1.5 L16.5,0 L13.5,0 L13.5,1.3 L13.3,2.5 L13.1,3.7 L12.8,4.9 L12.5,6.1 L12,7.3 L11.5,8.4 L10.9,9.4 L10.3,10.4 L9.5,11.3 L8.8,12.2 L7.9,12.9 L7.1,13.6 L6.1,14.3 L5.2,14.8 L4.2,15.2 L3.2,15.6 L2.1,15.8 L1.1,16 L0,16 L-1.1,16 L-2.1,15.8 L-3.2,15.6 L-4.2,15.2 L-5.2,14.8 L-6.1,14.3 L-7.1,13.6 L-7.9,12.9 L-8.8,12.2 L-9.5,11.3 L-10.3,10.4 L-10.9,9.4 L-11.5,8.4 L-12,7.3 L-12.5,6.1 L-12.8,4.9 L-13.1,3.7 L-13.3,2.5 L-13.5,1.3 L-13.5,0Z" fill="#fff"/>
</g>
<g transform="translate(729.2 1358.8) rotate(-20.6)">
<path d="M-43.2,-19.2 L-43.2,-21.1 L-43,-23 L-42.7,-24.9 L-42.3,-26.8 L-41.8,-28.6 L-41.1,-30.3 L-40.4,-32 L-39.6,-33.7 L-38.6,-35.2 L-37.6,-36.7 L-36.5,-38.1 L-35.3,-39.3 L-34.1,-40.5 L-32.7,-41.5 L-31.3,-42.4 L-29.9,-43.2 L-28.4,-43.9 L-26.9,-44.4 L-25.3,-44.8 L-23.8,-45.1 L-22.2,-45.2 L-20.6,-45.2 L-19,-45 L-17.4,-44.7 L-15.9,-44.3 L-14.4,-43.7 L-12.9,-43 L-11.5,-42.2 L-10.1,-41.2 L-8.8,-40.1 L12.8,-20.9 L13.4,-20.4 L13.9,-19.9 L14.4,-19.4 L14.9,-18.8 L15.4,-18.3 L15.8,-17.7 L16.3,-17.1 L16.7,-16.5 L17.1,-15.8 L17.5,-15.2 L17.9,-14.5 L18.3,-13.8 L18.6,-13.1 L19,-12.4 L19.3,-11.7 L19.6,-11 L19.9,-10.2 L20.1,-9.5 L20.3,-8.7 L20.6,-8 L20.8,-7.2 L20.9,-6.4 L21.1,-5.6 L21.2,-4.8 L21.3,-4 L21.4,-3.2 L21.5,-2.4 L21.6,-1.6 L21.6,-0.8 L21.6,-0 L18.1,-0 L18,-2.4 L17.7,-4.7 L17.2,-7 L16.5,-9.2 L15.7,-11.3 L14.6,-13.2 L13.5,-15.1 L12.1,-16.7 L10.6,-18.2 L9.1,-19.5 L7.4,-20.6 L5.6,-21.4 L3.8,-22 L1.9,-22.4 L-0,-22.5 L-1.9,-22.4 L-3.8,-22 L-5.6,-21.4 L-7.4,-20.6 L-9,-19.5 L-10.6,-18.2 L-12.1,-16.7 L-13.5,-15.1 L-14.6,-13.2 L-15.7,-11.2 L-16.5,-9.2 L-17.2,-7 L-17.7,-4.7 L-18,-2.4 L-18.1,-0 L-43.2,-19.2 L-43.2,-19.2 L-43.2,-19.2 L-43.2,-19.2 L-43.2,-19.2 L-43.2,-19.2 L-43.2,-19.2 L-43.2,-19.2 L-43.2,-19.2 L-43.2,-19.2 L-43.2,-19.2 L-43.2,-19.2 L-43.2,-19.2 L-43.2,-19.2 L-43.2,-19.2 L-43.2,-19.2 L-43.2,-19.2 L-43.2,-19.2 L-43.2,-19.2 L-43.2,-19.2 L-43.2,-19.2 L-43.2,-19.2 L-43.2,-19.2 L-43.2,-19.2 L-43.2,-19.2 L-43.2,-19.2 L-43.2,-19.2 L-43.2,-19.2 L-43.2,-19.2 L-43.2,-19.2 L-43.2,-19.2Z" fill="#fff" stroke="none"/>
<path d="M-43.2,-19.2 L-43.1,-22 L-42.7,-24.6 L-42.2,-27.3 L-41.3,-29.8 L-40.3,-32.2 L-39.1,-34.5 L-37.7,-36.6 L-36.1,-38.6 L-34.3,-40.3 L-32.4,-41.8 L-30.4,-43 L-28.3,-44 L-26.1,-44.7 L-23.9,-45.1 L-21.6,-45.2 L-19.4,-45.1 L-17.1,-44.7 L-14.9,-44 L-12.8,-43 L-10.8,-41.8 L-8.9,-40.3 L-7.2,-38.6 L-5.6,-36.6 L-4.1,-34.5 L-2.9,-32.2 L-1.9,-29.8 L-1.1,-27.3 L-0.5,-24.6 L-0.1,-22 L-0,-19.2 L21.6,-0 L21.5,-2.7 L21.1,-5.4 L20.5,-8 L19.7,-10.6 L18.7,-13 L17.5,-15.3 L16.1,-17.4 L14.5,-19.3 L12.7,-21 L10.8,-22.5 L8.8,-23.8 L6.7,-24.7 L4.5,-25.4 L2.3,-25.9 L-0,-26 L-2.3,-25.9 L-4.5,-25.4 L-6.7,-24.7 L-8.8,-23.8 L-10.8,-22.5 L-12.7,-21 L-14.5,-19.3 L-16.1,-17.4 L-17.5,-15.3 L-18.7,-13 L-19.7,-10.6 L-20.5,-8 L-21.1,-5.4 L-21.5,-2.7 L-21.6,0Z" fill="#fff" stroke="none"/>
<path d="M-43.2,-19.2 L-43.2,-21.1 L-43,-23 L-42.7,-24.9 L-42.3,-26.8 L-41.8,-28.6 L-41.1,-30.3 L-40.4,-32 L-39.6,-33.7 L-38.6,-35.2 L-37.6,-36.7 L-36.5,-38.1 L-35.3,-39.3 L-34.1,-40.5 L-32.7,-41.5 L-31.3,-42.4 L-29.9,-43.2 L-28.4,-43.9 L-26.9,-44.4 L-25.3,-44.8 L-23.8,-45.1 L-22.2,-45.2 L-20.6,-45.2 L-19,-45 L-17.4,-44.7 L-15.9,-44.3 L-14.4,-43.7 L-12.9,-43 L-11.5,-42.2 L-10.1,-41.2 L-8.8,-40.1"/>
<path d="M-8.8,-40.1 L12.8,-20.9"/>
<path d="M-43.2,-19.2 L-21.6,0"/>
<path d="M-38.7,-18.7 L-38.6,-21.1 L-38.3,-23.4 L-37.8,-25.7 L-37.1,-27.9 L-36.3,-30 L-35.2,-32 L-34,-33.9 L-32.7,-35.5 L-31.2,-37 L-29.6,-38.3 L-27.9,-39.4 L-26.1,-40.2 L-24.2,-40.8 L-22.3,-41.1 L-20.4,-41.2 L-18.5,-41.1 L-16.7,-40.7 L-14.8,-40.1 L-13,-39.2 L-11.4,-38.1"/>
<path d="M-21.6,0 L-21.5,-2 L-21.3,-4.1 L-21,-6.1 L-20.5,-8 L-20,-9.9 L-19.2,-11.8 L-18.4,-13.6 L-17.5,-15.3 L-16.4,-16.9 L-15.3,-18.4 L-14,-19.8 L-12.7,-21 L-11.3,-22.2 L-9.8,-23.2 L-8.3,-24 L-6.7,-24.7 L-5,-25.3 L-3.4,-25.7 L-1.7,-25.9 L-0,-26 L1.7,-25.9 L3.4,-25.7 L5,-25.3 L6.7,-24.7 L8.3,-24 L9.8,-23.2 L11.3,-22.2 L12.7,-21 L14,-19.8 L15.3,-18.4 L16.4,-16.9 L17.5,-15.3 L18.4,-13.6 L19.2,-11.8 L20,-9.9 L20.5,-8 L21,-6.1 L21.3,-4.1 L21.5,-2 L21.6,-0 L18.1,-0 L18,-1.8 L17.9,-3.5 L17.6,-5.3 L17.2,-7 L16.7,-8.6 L16.1,-10.2 L15.4,-11.8 L14.6,-13.2 L13.8,-14.6 L12.8,-15.9 L11.8,-17.1 L10.6,-18.2 L9.5,-19.2 L8.2,-20 L6.9,-20.8 L5.6,-21.4 L4.2,-21.9 L2.8,-22.2 L1.4,-22.4 L-0,-22.5 L-1.4,-22.4 L-2.8,-22.2 L-4.2,-21.9 L-5.6,-21.4 L-6.9,-20.8 L-8.2,-20 L-9.5,-19.2 L-10.6,-18.2 L-11.8,-17.1 L-12.8,-15.9 L-13.8,-14.6 L-14.6,-13.2 L-15.4,-11.8 L-16.1,-10.2 L-16.7,-8.6 L-17.2,-7 L-17.6,-5.3 L-17.9,-3.5 L-18,-1.8 L-18.1,0Z" fill="#fff"/>
</g>
<g transform="translate(729.5 1406) rotate(-20.6)">
<path d="M-42.1,-19.2 L-42.1,-18.6 L-42.1,-17.9 L-42,-17.3 L-42,-16.7 L-41.9,-16 L-41.8,-15.4 L-41.7,-14.8 L-41.6,-14.1 L-41.4,-13.5 L-41.2,-12.9 L-41.1,-12.3 L-40.9,-11.7 L-40.6,-11.1 L-40.4,-10.5 L-40.2,-9.9 L-39.9,-9.3 L-39.6,-8.7 L-39.3,-8.2 L-39,-7.6 L-38.7,-7.1 L-38.4,-6.5 L-38,-6 L-37.6,-5.5 L-37.3,-5 L-36.9,-4.5 L-36.5,-4.1 L-36,-3.6 L-35.6,-3.2 L-35.2,-2.7 L-34.7,-2.3 L-13.1,16.9 L-11.9,17.9 L-10.6,18.9 L-9.2,19.7 L-7.8,20.3 L-6.4,20.9 L-4.9,21.4 L-3.4,21.7 L-1.8,21.9 L-0.3,22 L1.3,22 L2.8,21.8 L4.3,21.5 L5.8,21.1 L7.3,20.6 L8.7,19.9 L10.1,19.1 L11.4,18.3 L12.7,17.3 L13.8,16.2 L14.9,15.1 L16,13.8 L16.9,12.5 L17.7,11.1 L18.4,9.6 L19.1,8.1 L19.6,6.5 L20,4.9 L20.3,3.3 L20.4,1.7 L20.5,0 L17,0 L16.9,1.9 L16.6,3.8 L16.2,5.7 L15.5,7.5 L14.7,9.2 L13.8,10.9 L12.6,12.4 L11.4,13.7 L10,15 L8.5,16 L6.9,16.9 L5.3,17.6 L3.5,18.1 L1.8,18.4 L0,18.5 L-1.8,18.4 L-3.5,18.1 L-5.3,17.6 L-6.9,16.9 L-8.5,16 L-10,15 L-11.4,13.7 L-12.6,12.4 L-13.8,10.9 L-14.7,9.2 L-15.5,7.5 L-16.2,5.7 L-16.6,3.8 L-16.9,1.9 L-17,0 L-42.1,-19.2 L-42.1,-19.2 L-42.1,-19.2 L-42.1,-19.2 L-42.1,-19.2 L-42.1,-19.2 L-42.1,-19.2 L-42.1,-19.2 L-42.1,-19.2 L-42.1,-19.2 L-42.1,-19.2 L-42.1,-19.2 L-42.1,-19.2 L-42.1,-19.2 L-42.1,-19.2 L-42.1,-19.2 L-42.1,-19.2 L-42.1,-19.2 L-42.1,-19.2 L-42.1,-19.2 L-42.1,-19.2 L-42.1,-19.2 L-42.1,-19.2 L-42.1,-19.2 L-42.1,-19.2 L-42.1,-19.2 L-42.1,-19.2 L-42.1,-19.2 L-42.1,-19.2 L-42.1,-19.2 L-42.1,-19.2Z" fill="#fff" stroke="none"/>
<path d="M-42.1,-19.2 L-42,-16.9 L-41.7,-14.7 L-41.1,-12.4 L-40.3,-10.3 L-39.4,-8.2 L-38.2,-6.3 L-36.8,-4.5 L-35.3,-2.9 L-33.7,-1.4 L-31.9,-0.2 L-30,0.9 L-27.9,1.7 L-25.9,2.3 L-23.8,2.6 L-21.6,2.8 L-19.5,2.6 L-17.4,2.3 L-15.3,1.7 L-13.3,0.9 L-11.4,-0.2 L-9.6,-1.4 L-7.9,-2.9 L-6.4,-4.5 L-5,-6.3 L-3.9,-8.2 L-2.9,-10.3 L-2.1,-12.4 L-1.6,-14.7 L-1.2,-16.9 L-1.1,-19.2 L20.5,0 L20.4,2.3 L20.1,4.6 L19.5,6.8 L18.7,8.9 L17.8,11 L16.6,12.9 L15.2,14.7 L13.7,16.3 L12,17.8 L10.2,19.1 L8.3,20.1 L6.3,20.9 L4.3,21.5 L2.1,21.9 L-0,22 L-2.1,21.9 L-4.3,21.5 L-6.3,20.9 L-8.3,20.1 L-10.3,19.1 L-12,17.8 L-13.7,16.3 L-15.2,14.7 L-16.6,12.9 L-17.8,11 L-18.7,8.9 L-19.5,6.8 L-20.1,4.6 L-20.4,2.3 L-20.5,0Z" fill="#fff" stroke="none"/>
<path d="M-42.1,-19.2 L-42.1,-18.6 L-42.1,-17.9 L-42,-17.3 L-42,-16.7 L-41.9,-16 L-41.8,-15.4 L-41.7,-14.8 L-41.6,-14.1 L-41.4,-13.5 L-41.2,-12.9 L-41.1,-12.3 L-40.9,-11.7 L-40.6,-11.1 L-40.4,-10.5 L-40.2,-9.9 L-39.9,-9.3 L-39.6,-8.7 L-39.3,-8.2 L-39,-7.6 L-38.7,-7.1 L-38.4,-6.5 L-38,-6 L-37.6,-5.5 L-37.3,-5 L-36.9,-4.5 L-36.5,-4.1 L-36,-3.6 L-35.6,-3.2 L-35.2,-2.7 L-34.7,-2.3"/>
<path d="M-34.7,-2.3 L-13.1,16.9"/>
<path d="M-42.1,-19.2 L-20.5,0"/>
<path d="M-42.1,-19.2 L-38.6,-19.2 L-17,0"/>
<path d="M-1.1,-19.2 L20.5,0 M-4.6,-19.2 L17,0 L-1.1,-19.2"/>
<path d="M-38.6,-19.2 L-38.6,-19.2 L-38.6,-19.2"/>
<path d="M-4.6,-19.2 L-4.7,-17.6 L-4.9,-16.1 L-5.2,-14.5 L-5.6,-13 L-6.2,-11.5 L-6.8,-10.1 L-7.6,-8.7 L-8.5,-7.4 L-9.5,-6.3 L-10.6,-5.2 L-11.7,-4.2 L-13,-3.3 L-14.3,-2.6 L-15.6,-1.9 L-17,-1.4 L-18.4,-1.1 L-19.9,-0.8 L-21.3,-0.7 L-22.8,-0.8 L-24.3,-1"/>
<path d="M-20.5,0 L-20.4,1.7 L-20.2,3.4 L-19.9,5.1 L-19.5,6.8 L-18.9,8.4 L-18.3,10 L-17.5,11.5 L-16.6,12.9 L-15.6,14.3 L-14.5,15.6 L-13.3,16.7 L-12,17.8 L-10.7,18.8 L-9.3,19.6 L-7.8,20.3 L-6.3,20.9 L-4.8,21.4 L-3.2,21.7 L-1.6,21.9 L0,22 L1.6,21.9 L3.2,21.7 L4.8,21.4 L6.3,20.9 L7.8,20.3 L9.3,19.6 L10.7,18.8 L12,17.8 L13.3,16.7 L14.5,15.6 L15.6,14.3 L16.6,12.9 L17.5,11.5 L18.3,10 L18.9,8.4 L19.5,6.8 L19.9,5.1 L20.2,3.4 L20.4,1.7 L20.5,0 L17,0 L16.9,1.5 L16.8,2.9 L16.5,4.3 L16.2,5.7 L15.7,7.1 L15.1,8.4 L14.5,9.7 L13.8,10.9 L12.9,12 L12,13.1 L11,14.1 L10,15 L8.9,15.8 L7.7,16.5 L6.5,17.1 L5.3,17.6 L4,18 L2.7,18.3 L1.3,18.4 L0,18.5 L-1.3,18.4 L-2.7,18.3 L-4,18 L-5.3,17.6 L-6.5,17.1 L-7.7,16.5 L-8.9,15.8 L-10,15 L-11,14.1 L-12,13.1 L-12.9,12 L-13.8,10.9 L-14.5,9.7 L-15.1,8.4 L-15.7,7.1 L-16.2,5.7 L-16.5,4.3 L-16.8,2.9 L-16.9,1.5 L-17,0Z" fill="#fff"/>
</g>
<path d="M716,1329 A2,2.5 0 1 0 717,1334"/>
<path d="M774,1392 L792,1391 L800,1421 L778,1413 Q770,1402 774,1392 Z" fill="#fff"/>
<path d="M775,1393 Q770,1403 778,1413"/>
<path d="M779,1393 Q774,1403 782,1413"/>
<path d="M783,1393 Q778,1403 786,1413"/>
<ellipse cx="798.3" cy="1406" rx="11" ry="15.2" transform="rotate(15 798.3 1406)" fill="#fff"/>
<ellipse cx="798.8" cy="1406.5" rx="5" ry="6.5" transform="rotate(15 798.8 1406.5)"/>
<path d="M797,1402 L801,1406 L797,1410"/>
<path d="M432.9,1060.8 L432.5,1063.6 L435.9,1066.1 L434.8,1070.5 L430.9,1070.2 L430.1,1072.9 L432.9,1076.5 L431.3,1080.6 L427.7,1078.9 L426.5,1081.3 L428.7,1085.9 L426.5,1089.5 L423.3,1086.5 L421.8,1088.5 L423.2,1093.9 L420.7,1096.8 L418.1,1092.7 L416.4,1094.2 L417,1100.1 L414.1,1102 L412.3,1097 L410.5,1097.9 L410.1,1104.1 L407.2,1105 L406.2,1099.4 L404.3,1099.6 L403.1,1105.7 L400.1,1105.6 L400,1099.6 L398.2,1099.2 L396.2,1104.9 L393.4,1103.8 L394.2,1097.7 L392.5,1096.7 L389.8,1101.6 L387.3,1099.6 L388.9,1093.7 L387.5,1092.2 L384.2,1096.2 L382.2,1093.3 L384.5,1087.9 L383.4,1085.9 L379.7,1088.8 L378.2,1085.1 L381.2,1080.6 L380.4,1078.1 L376.5,1079.7 L375.6,1075.6 L379.1,1072.1 L378.8,1069.3 L374.8,1069.6 L374.6,1065.1 L378.4,1062.8 L378.5,1059.9 L374.7,1058.8 L375.1,1054.2 L379.1,1053.2 L379.5,1050.4 L376.1,1047.9 L377.2,1043.5 L381.1,1043.8 L381.9,1041.1 L379.1,1037.5 L380.7,1033.4 L384.3,1035.1 L385.5,1032.7 L383.3,1028.1 L385.5,1024.5 L388.7,1027.5 L390.2,1025.5 L388.8,1020.1 L391.3,1017.2 L393.9,1021.3 L395.6,1019.8 L395,1013.9 L397.9,1012 L399.7,1017 L401.5,1016.1 L401.9,1009.9 L404.8,1009 L405.8,1014.6 L407.7,1014.4 L408.9,1008.3 L411.9,1008.4 L412,1014.4 L413.8,1014.8 L415.8,1009.1 L418.6,1010.2 L417.8,1016.3 L419.5,1017.3 L422.2,1012.4 L424.7,1014.4 L423.1,1020.3 L424.5,1021.8 L427.8,1017.8 L429.8,1020.7 L427.5,1026.1 L428.6,1028.1 L432.3,1025.2 L433.8,1028.9 L430.8,1033.4 L431.6,1035.9 L435.5,1034.3 L436.4,1038.4 L432.9,1041.9 L433.2,1044.7 L437.2,1044.4 L437.4,1048.9 L433.6,1051.2 L433.5,1054.1 L437.3,1055.2 L436.9,1059.8Z" fill="#fff"/>
<path d="M427.2,1105.2 L398.2,1099.2 M425.2,1110.9 L396.2,1104.9 M422.4,1109.8 L393.4,1103.8 M421.5,1102.7 L392.5,1096.7 M418.8,1107.6 L389.8,1101.6 M416.3,1105.6 L387.3,1099.6 M416.5,1098.2 L387.5,1092.2 M413.2,1102.2 L384.2,1096.2 M411.2,1099.3 L382.2,1093.3 M412.4,1091.9 L383.4,1085.9 M408.7,1094.8 L379.7,1088.8 M407.2,1091.1 L378.2,1085.1 M409.4,1084.1 L380.4,1078.1 M405.5,1085.7 L376.5,1079.7 M404.6,1081.6 L375.6,1075.6 M407.8,1075.3 L378.8,1069.3 M403.8,1075.6 L374.8,1069.6 M403.6,1071.1 L374.6,1065.1 M407.5,1065.9 L378.5,1059.9 M403.7,1064.8 L374.7,1058.8 M404.1,1060.2 L375.1,1054.2 M408.5,1056.4 L379.5,1050.4 M405.1,1053.9 L376.1,1047.9 M406.2,1049.5 L377.2,1043.5 M410.9,1047.1 L381.9,1041.1 M408.1,1043.5 L379.1,1037.5 M409.7,1039.4 L380.7,1033.4 M414.5,1038.7 L385.5,1032.7 M412.3,1034.1 L383.3,1028.1 M414.5,1030.5 L385.5,1024.5 M419.2,1031.5 L390.2,1025.5 M417.8,1026.1 L388.8,1020.1 M420.3,1023.2 L391.3,1017.2 M424.6,1025.8 L395.6,1019.8 M424,1019.9 L395,1013.9 M426.9,1018 L397.9,1012 M430.5,1022.1 L401.5,1016.1 M430.9,1015.9 L401.9,1009.9 M433.8,1015 L404.8,1009 M436.7,1020.4 L407.7,1014.4 M437.9,1014.3 L408.9,1008.3 M440.9,1014.4 L411.9,1008.4"/>
<path d="M461.9,1066.8 L461.5,1069.6 L464.9,1072.1 L463.8,1076.5 L459.9,1076.2 L459.1,1078.9 L461.9,1082.5 L460.3,1086.6 L456.7,1084.9 L455.5,1087.3 L457.7,1091.9 L455.5,1095.5 L452.3,1092.5 L450.8,1094.5 L452.2,1099.9 L449.7,1102.8 L447.1,1098.7 L445.4,1100.2 L446,1106.1 L443.1,1108 L441.3,1103 L439.5,1103.9 L439.1,1110.1 L436.2,1111 L435.2,1105.4 L433.3,1105.6 L432.1,1111.7 L429.1,1111.6 L429,1105.6 L427.2,1105.2 L425.2,1110.9 L422.4,1109.8 L423.2,1103.7 L421.5,1102.7 L418.8,1107.6 L416.3,1105.6 L417.9,1099.7 L416.5,1098.2 L413.2,1102.2 L411.2,1099.3 L413.5,1093.9 L412.4,1091.9 L408.7,1094.8 L407.2,1091.1 L410.2,1086.6 L409.4,1084.1 L405.5,1085.7 L404.6,1081.6 L408.1,1078.1 L407.8,1075.3 L403.8,1075.6 L403.6,1071.1 L407.4,1068.8 L407.5,1065.9 L403.7,1064.8 L404.1,1060.2 L408.1,1059.2 L408.5,1056.4 L405.1,1053.9 L406.2,1049.5 L410.1,1049.8 L410.9,1047.1 L408.1,1043.5 L409.7,1039.4 L413.3,1041.1 L414.5,1038.7 L412.3,1034.1 L414.5,1030.5 L417.7,1033.5 L419.2,1031.5 L417.8,1026.1 L420.3,1023.2 L422.9,1027.3 L424.6,1025.8 L424,1019.9 L426.9,1018 L428.7,1023 L430.5,1022.1 L430.9,1015.9 L433.8,1015 L434.8,1020.6 L436.7,1020.4 L437.9,1014.3 L440.9,1014.4 L441,1020.4 L442.8,1020.8 L444.8,1015.1 L447.6,1016.2 L446.8,1022.3 L448.5,1023.3 L451.2,1018.4 L453.7,1020.4 L452.1,1026.3 L453.5,1027.8 L456.8,1023.8 L458.8,1026.7 L456.5,1032.1 L457.6,1034.1 L461.3,1031.2 L462.8,1034.9 L459.8,1039.4 L460.6,1041.9 L464.5,1040.3 L465.4,1044.4 L461.9,1047.9 L462.2,1050.7 L466.2,1050.4 L466.4,1054.9 L462.6,1057.2 L462.5,1060.1 L466.3,1061.2 L465.9,1065.8Z" fill="#fff"/>
<ellipse cx="427.7" cy="1063.2" rx="17.4" ry="25.9" transform="rotate(12 427.7 1063.2)"/>
<path d="M426,1038 L428,1035 L432,1036 L431,1040"/>
<g transform="translate(237 197) rotate(18.4)">
<path d="M-15.1,-27 L15.1,-27 A14.9,27 0 0 1 15.1,27 L-15.1,27 A14.9,27 0 0 1 -15.1,-27 Z" fill="#fff"/>
<path d="M15.1,-27 A14.9,27 0 0 0 15.1,27"/>
<path d="M13.1,-18 L16.5,-18 A9.9,18 0 0 1 16.5,18 L13.1,18 A9.9,18 0 0 1 13.1,-18 Z" fill="#fff"/>
<path d="M39,-23 L56.9,-23 A12.7,23 0 0 1 56.9,23 L39,23 A12.7,23 0 0 1 39,-23 Z" fill="#fff" transform="translate(0 3)"/>
<path d="M56.9,-23 A12.7,23 0 0 0 56.9,23" transform="translate(0 3)"/>
<path d="M68.4,-13.5 L90.6,-13.5 A7.4,13.5 0 0 1 90.6,13.5 L68.4,13.5 A7.4,13.5 0 0 1 68.4,-13.5 Z" fill="#fff"/>
<path d="M107.8,-27 L134.2,-27 A14.9,27 0 0 1 134.2,27 L107.8,27 A14.9,27 0 0 1 107.8,-27 Z" fill="#fff"/>
<path d="M134.2,-27 A14.9,27 0 0 0 134.2,27"/>
<path d="M133.6,-21 L139.1,-21 A11.6,21 0 0 1 139.1,21 L133.6,21 A11.6,21 0 0 1 133.6,-21 Z" fill="#fff"/>
<path d="M139.1,-21 A11.6,21 0 0 0 139.1,21"/>
<path d="M153.6,-21 L166.4,-21 A11.6,21 0 0 1 166.4,21 L153.6,21 A11.6,21 0 0 1 153.6,-21 Z" fill="#fff" transform="translate(0 1)"/>
<path d="M166.4,-21 A11.6,21 0 0 0 166.4,21" transform="translate(0 1)"/>
<path d="M175.8,-17 L188.7,-17 A9.4,17 0 0 1 188.7,17 L175.8,17 A9.4,17 0 0 1 175.8,-17 Z" fill="#fff"/>
<path d="M202.8,-27 L228.2,-27 A14.9,27 0 0 1 228.2,27 L202.8,27 A14.9,27 0 0 1 202.8,-27 Z" fill="#fff"/>
<path d="M228.2,-27 A14.9,27 0 0 0 228.2,27"/>
<path d="M225.4,-13.5 L233.6,-13.5 A7.4,13.5 0 0 1 233.6,13.5 L225.4,13.5 A7.4,13.5 0 0 1 225.4,-13.5 Z" fill="#fff"/>
<path d="M248.1,-22 L256.9,-22 A12.1,22 0 0 1 256.9,22 L248.1,22 A12.1,22 0 0 1 248.1,-22 Z" fill="#fff" transform="translate(0 6)"/>
<path d="M256.9,-22 A12.1,22 0 0 0 256.9,22" transform="translate(0 6)"/>
<path d="M269.4,-19 L276.2,-19 A10.5,19 0 0 1 276.2,19 L269.4,19 A10.5,19 0 0 1 269.4,-19 Z" fill="#fff" transform="translate(0 2)"/>
<path d="M276.2,-19 A10.5,19 0 0 0 276.2,19" transform="translate(0 2)"/>
<path d="M293.5,-30 L325,-30 A16.5,30 0 0 1 325,30 L293.5,30 A16.5,30 0 0 1 293.5,-30 Z" fill="#fff"/>
<path d="M325,-30 A16.5,30 0 0 0 325,30"/>
<path d="M300.5,-30 A16.5,30 0 0 0 300.5,30"/>
<path d="M307.5,-30 A16.5,30 0 0 0 307.5,30"/>
<path d="M314.5,-30 A16.5,30 0 0 0 314.5,30"/>
<path d="M325.6,-17.5 L353,-17.5 A9.6,17.5 0 0 1 353,17.5 L325.6,17.5 A9.6,17.5 0 0 1 325.6,-17.5 Z" fill="#fff"/>
<path d="M353,-17.5 A9.6,17.5 0 0 0 353,17.5"/>
<ellipse cx="352.9" cy="0" rx="5.5" ry="10"/>
<path d="M355,-6 A4,7 0 0 0 355,6"/>
<path d="M330,-17.5 L345,-17.5 M331,-13.5 L344,-13.5"/>
</g>
<g stroke-width="2.1">
<path transform="translate(852.7 721.2) rotate(-43.2)" d="M0,-3.6 L11,-3.6 A3.6,3.6 0 0 1 11,3.6 L0,3.6 A3.6,3.6 0 0 1 0,-3.6 Z" fill="#fff"/>
<path transform="translate(868.8 706.2) rotate(-42.4)" d="M0,-3.6 L11,-3.6 A3.6,3.6 0 0 1 11,3.6 L0,3.6 A3.6,3.6 0 0 1 0,-3.6 Z" fill="#fff"/>
<path transform="translate(885.1 691.4) rotate(-40.6)" d="M0,-3.6 L11,-3.6 A3.6,3.6 0 0 1 11,3.6 L0,3.6 A3.6,3.6 0 0 1 0,-3.6 Z" fill="#fff"/>
<path transform="translate(902.1 677.4) rotate(-37)" d="M0,-3.6 L11,-3.6 A3.6,3.6 0 0 1 11,3.6 L0,3.6 A3.6,3.6 0 0 1 0,-3.6 Z" fill="#fff"/>
<path transform="translate(919.8 664.4) rotate(-34.5)" d="M0,-3.6 L11,-3.6 A3.6,3.6 0 0 1 11,3.6 L0,3.6 A3.6,3.6 0 0 1 0,-3.6 Z" fill="#fff"/>
<path transform="translate(938 652) rotate(-33.9)" d="M0,-3.6 L11,-3.6 A3.6,3.6 0 0 1 11,3.6 L0,3.6 A3.6,3.6 0 0 1 0,-3.6 Z" fill="#fff"/>
<path transform="translate(956.1 639.6) rotate(-34.9)" d="M0,-3.6 L11,-3.6 A3.6,3.6 0 0 1 11,3.6 L0,3.6 A3.6,3.6 0 0 1 0,-3.6 Z" fill="#fff"/>
<path transform="translate(974.5 627.4) rotate(-23.9)" d="M0,-3.6 L11,-3.6 A3.6,3.6 0 0 1 11,3.6 L0,3.6 A3.6,3.6 0 0 1 0,-3.6 Z" fill="#fff"/>
<path transform="translate(995.4 621.8) rotate(17.3)" d="M0,-3.6 L10.9,-3.6 A3.6,3.6 0 0 1 10.9,3.6 L0,3.6 A3.6,3.6 0 0 1 0,-3.6 Z" fill="#fff"/>
<path transform="translate(1014.3 631.9) rotate(60)" d="M0,-3.6 L11,-3.6 A3.6,3.6 0 0 1 11,3.6 L0,3.6 A3.6,3.6 0 0 1 0,-3.6 Z" fill="#fff"/>
<path transform="translate(1023.3 651.8) rotate(81.7)" d="M0,-3.6 L11,-3.6 A3.6,3.6 0 0 1 11,3.6 L0,3.6 A3.6,3.6 0 0 1 0,-3.6 Z" fill="#fff"/>
<path transform="translate(1024.5 673.7) rotate(98)" d="M0,-3.6 L11,-3.6 A3.6,3.6 0 0 1 11,3.6 L0,3.6 A3.6,3.6 0 0 1 0,-3.6 Z" fill="#fff"/>
<path transform="translate(1020.7 695.3) rotate(108)" d="M0,-3.6 L11,-3.6 A3.6,3.6 0 0 1 11,3.6 L0,3.6 A3.6,3.6 0 0 1 0,-3.6 Z" fill="#fff"/>
<path transform="translate(1011.7 715.2) rotate(133.4)" d="M0,-3.6 L11,-3.6 A3.6,3.6 0 0 1 11,3.6 L0,3.6 A3.6,3.6 0 0 1 0,-3.6 Z" fill="#fff"/>
<path transform="translate(995.9 730.5) rotate(146.1)" d="M0,-3.6 L11,-3.6 A3.6,3.6 0 0 1 11,3.6 L0,3.6 A3.6,3.6 0 0 1 0,-3.6 Z" fill="#fff"/>
<path transform="translate(977 741.7) rotate(155.8)" d="M0,-3.6 L11,-3.6 A3.6,3.6 0 0 1 11,3.6 L0,3.6 A3.6,3.6 0 0 1 0,-3.6 Z" fill="#fff"/>
<path transform="translate(956.9 750.5) rotate(157.5)" d="M0,-3.6 L11,-3.6 A3.6,3.6 0 0 1 11,3.6 L0,3.6 A3.6,3.6 0 0 1 0,-3.6 Z" fill="#fff"/>
<path transform="translate(936.6 758.9) rotate(157.8)" d="M0,-3.6 L11,-3.6 A3.6,3.6 0 0 1 11,3.6 L0,3.6 A3.6,3.6 0 0 1 0,-3.6 Z" fill="#fff"/>
<path transform="translate(916.2 767.1) rotate(158.8)" d="M0,-3.6 L11,-3.6 A3.6,3.6 0 0 1 11,3.6 L0,3.6 A3.6,3.6 0 0 1 0,-3.6 Z" fill="#fff"/>
<path transform="translate(895.6 775) rotate(159.8)" d="M0,-3.6 L11,-3.6 A3.6,3.6 0 0 1 11,3.6 L0,3.6 A3.6,3.6 0 0 1 0,-3.6 Z" fill="#fff"/>
<path transform="translate(875 782.6) rotate(160)" d="M0,-3.6 L11,-3.6 A3.6,3.6 0 0 1 11,3.6 L0,3.6 A3.6,3.6 0 0 1 0,-3.6 Z" fill="#fff"/>
<path transform="translate(854.3 790.1) rotate(159.3)" d="M0,-3.6 L11,-3.6 A3.6,3.6 0 0 1 11,3.6 L0,3.6 A3.6,3.6 0 0 1 0,-3.6 Z" fill="#fff"/>
<path transform="translate(833.8 798.2) rotate(155.2)" d="M0,-3.6 L11,-3.6 A3.6,3.6 0 0 1 11,3.6 L0,3.6 A3.6,3.6 0 0 1 0,-3.6 Z" fill="#fff"/>
<path transform="translate(844.7 728.8) rotate(-43.3)" d="M0,-4.5 L11,-4.5 A4.5,4.5 0 0 1 11,4.5 L0,4.5 A4.5,4.5 0 0 1 0,-4.5 Z" fill="#fff"/>
<path transform="translate(860.7 713.7) rotate(-42.9)" d="M0,-4.5 L11,-4.5 A4.5,4.5 0 0 1 11,4.5 L0,4.5 A4.5,4.5 0 0 1 0,-4.5 Z" fill="#fff"/>
<path transform="translate(876.9 698.8) rotate(-41.7)" d="M0,-4.5 L11,-4.5 A4.5,4.5 0 0 1 11,4.5 L0,4.5 A4.5,4.5 0 0 1 0,-4.5 Z" fill="#fff"/>
<path transform="translate(893.5 684.3) rotate(-38.7)" d="M0,-4.5 L11,-4.5 A4.5,4.5 0 0 1 11,4.5 L0,4.5 A4.5,4.5 0 0 1 0,-4.5 Z" fill="#fff"/>
<path transform="translate(910.9 670.8) rotate(-35.5)" d="M0,-4.5 L11,-4.5 A4.5,4.5 0 0 1 11,4.5 L0,4.5 A4.5,4.5 0 0 1 0,-4.5 Z" fill="#fff"/>
<path transform="translate(928.9 658.2) rotate(-33.9)" d="M0,-4.5 L11,-4.5 A4.5,4.5 0 0 1 11,4.5 L0,4.5 A4.5,4.5 0 0 1 0,-4.5 Z" fill="#fff"/>
<path transform="translate(947.1 645.9) rotate(-34.8)" d="M0,-4.5 L11,-4.5 A4.5,4.5 0 0 1 11,4.5 L0,4.5 A4.5,4.5 0 0 1 0,-4.5 Z" fill="#fff"/>
<path transform="translate(965.2 633.3) rotate(-32.3)" d="M0,-4.5 L11,-4.5 A4.5,4.5 0 0 1 11,4.5 L0,4.5 A4.5,4.5 0 0 1 0,-4.5 Z" fill="#fff"/>
<path transform="translate(984.5 623) rotate(-6.1)" d="M0,-4.5 L10.9,-4.5 A4.5,4.5 0 0 1 10.9,4.5 L0,4.5 A4.5,4.5 0 0 1 0,-4.5 Z" fill="#fff"/>
<path transform="translate(1005.8 625.1) rotate(38.6)" d="M0,-4.5 L10.9,-4.5 A4.5,4.5 0 0 1 10.9,4.5 L0,4.5 A4.5,4.5 0 0 1 0,-4.5 Z" fill="#fff"/>
<path transform="translate(1019.8 641.4) rotate(71.6)" d="M0,-4.5 L11,-4.5 A4.5,4.5 0 0 1 11,4.5 L0,4.5 A4.5,4.5 0 0 1 0,-4.5 Z" fill="#fff"/>
<path transform="translate(1024.9 662.7) rotate(91.9)" d="M0,-4.5 L11,-4.5 A4.5,4.5 0 0 1 11,4.5 L0,4.5 A4.5,4.5 0 0 1 0,-4.5 Z" fill="#fff"/>
<path transform="translate(1023 684.6) rotate(102)" d="M0,-4.5 L11,-4.5 A4.5,4.5 0 0 1 11,4.5 L0,4.5 A4.5,4.5 0 0 1 0,-4.5 Z" fill="#fff"/>
<path transform="translate(1017.3 705.8) rotate(120.3)" d="M0,-4.5 L11,-4.5 A4.5,4.5 0 0 1 11,4.5 L0,4.5 A4.5,4.5 0 0 1 0,-4.5 Z" fill="#fff"/>
<path transform="translate(1004.2 723.2) rotate(138.7)" d="M0,-4.5 L11,-4.5 A4.5,4.5 0 0 1 11,4.5 L0,4.5 A4.5,4.5 0 0 1 0,-4.5 Z" fill="#fff"/>
<path transform="translate(986.8 736.6) rotate(152.6)" d="M0,-4.5 L11,-4.5 A4.5,4.5 0 0 1 11,4.5 L0,4.5 A4.5,4.5 0 0 1 0,-4.5 Z" fill="#fff"/>
<path transform="translate(967 746.2) rotate(157.1)" d="M0,-4.5 L11,-4.5 A4.5,4.5 0 0 1 11,4.5 L0,4.5 A4.5,4.5 0 0 1 0,-4.5 Z" fill="#fff"/>
<path transform="translate(946.7 754.7) rotate(157.5)" d="M0,-4.5 L11,-4.5 A4.5,4.5 0 0 1 11,4.5 L0,4.5 A4.5,4.5 0 0 1 0,-4.5 Z" fill="#fff"/>
<path transform="translate(926.4 763) rotate(158.3)" d="M0,-4.5 L11,-4.5 A4.5,4.5 0 0 1 11,4.5 L0,4.5 A4.5,4.5 0 0 1 0,-4.5 Z" fill="#fff"/>
<path transform="translate(905.9 771.1) rotate(159.3)" d="M0,-4.5 L11,-4.5 A4.5,4.5 0 0 1 11,4.5 L0,4.5 A4.5,4.5 0 0 1 0,-4.5 Z" fill="#fff"/>
<path transform="translate(885.3 778.8) rotate(159.9)" d="M0,-4.5 L11,-4.5 A4.5,4.5 0 0 1 11,4.5 L0,4.5 A4.5,4.5 0 0 1 0,-4.5 Z" fill="#fff"/>
<path transform="translate(864.6 786.3) rotate(159.8)" d="M0,-4.5 L11,-4.5 A4.5,4.5 0 0 1 11,4.5 L0,4.5 A4.5,4.5 0 0 1 0,-4.5 Z" fill="#fff"/>
<path transform="translate(844 794) rotate(157.8)" d="M0,-4.5 L11,-4.5 A4.5,4.5 0 0 1 11,4.5 L0,4.5 A4.5,4.5 0 0 1 0,-4.5 Z" fill="#fff"/>
<path d="M847.3,728.8 a2.6,2.6 0 1 0 0.01,0 M855.3,721.2 a2.6,2.6 0 1 0 0.01,0 M863.3,713.7 a2.6,2.6 0 1 0 0.01,0 M871.4,706.2 a2.6,2.6 0 1 0 0.01,0 M879.5,698.8 a2.6,2.6 0 1 0 0.01,0 M887.7,691.4 a2.6,2.6 0 1 0 0.01,0 M896.1,684.3 a2.6,2.6 0 1 0 0.01,0 M904.7,677.4 a2.6,2.6 0 1 0 0.01,0 M913.5,670.8 a2.6,2.6 0 1 0 0.01,0 M922.4,664.4 a2.6,2.6 0 1 0 0.01,0 M931.5,658.2 a2.6,2.6 0 1 0 0.01,0 M940.6,652 a2.6,2.6 0 1 0 0.01,0 M949.7,645.9 a2.6,2.6 0 1 0 0.01,0 M958.7,639.6 a2.6,2.6 0 1 0 0.01,0 M967.8,633.3 a2.6,2.6 0 1 0 0.01,0 M977.1,627.4 a2.6,2.6 0 1 0 0.01,0 M987.1,623 a2.6,2.6 0 1 0 0.01,0 M998,621.8 a2.6,2.6 0 1 0 0.01,0 M1008.4,625.1 a2.6,2.6 0 1 0 0.01,0 M1016.9,631.9 a2.6,2.6 0 1 0 0.01,0 M1022.4,641.4 a2.6,2.6 0 1 0 0.01,0 M1025.9,651.8 a2.6,2.6 0 1 0 0.01,0 M1027.5,662.7 a2.6,2.6 0 1 0 0.01,0 M1027.1,673.7 a2.6,2.6 0 1 0 0.01,0 M1025.6,684.6 a2.6,2.6 0 1 0 0.01,0 M1023.3,695.3 a2.6,2.6 0 1 0 0.01,0 M1019.9,705.8 a2.6,2.6 0 1 0 0.01,0 M1014.3,715.2 a2.6,2.6 0 1 0 0.01,0 M1006.8,723.2 a2.6,2.6 0 1 0 0.01,0 M998.5,730.5 a2.6,2.6 0 1 0 0.01,0 M989.4,736.6 a2.6,2.6 0 1 0 0.01,0 M979.6,741.7 a2.6,2.6 0 1 0 0.01,0 M969.6,746.2 a2.6,2.6 0 1 0 0.01,0 M959.5,750.5 a2.6,2.6 0 1 0 0.01,0 M949.3,754.7 a2.6,2.6 0 1 0 0.01,0 M939.2,758.9 a2.6,2.6 0 1 0 0.01,0 M929,763 a2.6,2.6 0 1 0 0.01,0 M918.8,767.1 a2.6,2.6 0 1 0 0.01,0 M908.5,771.1 a2.6,2.6 0 1 0 0.01,0 M898.2,775 a2.6,2.6 0 1 0 0.01,0 M887.9,778.8 a2.6,2.6 0 1 0 0.01,0 M877.6,782.6 a2.6,2.6 0 1 0 0.01,0 M867.2,786.3 a2.6,2.6 0 1 0 0.01,0 M856.9,790.1 a2.6,2.6 0 1 0 0.01,0 M846.6,794 a2.6,2.6 0 1 0 0.01,0 M836.4,798.2 a2.6,2.6 0 1 0 0.01,0 M826.5,802.8 a2.6,2.6 0 1 0 0.01,0"/>
<path transform="translate(853.7 731.1) rotate(-43.3)" d="M0,-3.6 L11,-3.6 A3.6,3.6 0 0 1 11,3.6 L0,3.6 A3.6,3.6 0 0 1 0,-3.6 Z" fill="#fff"/>
<path transform="translate(869.7 716) rotate(-42.7)" d="M0,-3.6 L11,-3.6 A3.6,3.6 0 0 1 11,3.6 L0,3.6 A3.6,3.6 0 0 1 0,-3.6 Z" fill="#fff"/>
<path transform="translate(885.9 701.1) rotate(-41.4)" d="M0,-3.6 L11,-3.6 A3.6,3.6 0 0 1 11,3.6 L0,3.6 A3.6,3.6 0 0 1 0,-3.6 Z" fill="#fff"/>
<path transform="translate(902.7 686.9) rotate(-37.8)" d="M0,-3.6 L11,-3.6 A3.6,3.6 0 0 1 11,3.6 L0,3.6 A3.6,3.6 0 0 1 0,-3.6 Z" fill="#fff"/>
<path transform="translate(920.2 673.6) rotate(-34.9)" d="M0,-3.6 L11,-3.6 A3.6,3.6 0 0 1 11,3.6 L0,3.6 A3.6,3.6 0 0 1 0,-3.6 Z" fill="#fff"/>
<path transform="translate(938.4 661.2) rotate(-33.8)" d="M0,-3.6 L11,-3.6 A3.6,3.6 0 0 1 11,3.6 L0,3.6 A3.6,3.6 0 0 1 0,-3.6 Z" fill="#fff"/>
<path transform="translate(956.6 648.8) rotate(-35.1)" d="M0,-3.6 L11,-3.6 A3.6,3.6 0 0 1 11,3.6 L0,3.6 A3.6,3.6 0 0 1 0,-3.6 Z" fill="#fff"/>
<path transform="translate(974.7 636.4) rotate(-27.8)" d="M0,-3.6 L11,-3.6 A3.6,3.6 0 0 1 11,3.6 L0,3.6 A3.6,3.6 0 0 1 0,-3.6 Z" fill="#fff"/>
<path transform="translate(995.2 629.7) rotate(22.6)" d="M0,-3.6 L10.9,-3.6 A3.6,3.6 0 0 1 10.9,3.6 L0,3.6 A3.6,3.6 0 0 1 0,-3.6 Z" fill="#fff"/>
<path transform="translate(1011.8 642.6) rotate(70.2)" d="M0,-3.6 L11,-3.6 A3.6,3.6 0 0 1 11,3.6 L0,3.6 A3.6,3.6 0 0 1 0,-3.6 Z" fill="#fff"/>
<path transform="translate(1017.1 663.8) rotate(93)" d="M0,-3.6 L11,-3.6 A3.6,3.6 0 0 1 11,3.6 L0,3.6 A3.6,3.6 0 0 1 0,-3.6 Z" fill="#fff"/>
<path transform="translate(1014.8 685.6) rotate(103.3)" d="M0,-3.6 L11,-3.6 A3.6,3.6 0 0 1 11,3.6 L0,3.6 A3.6,3.6 0 0 1 0,-3.6 Z" fill="#fff"/>
<path transform="translate(1008.2 706.5) rotate(128.2)" d="M0,-3.6 L11,-3.6 A3.6,3.6 0 0 1 11,3.6 L0,3.6 A3.6,3.6 0 0 1 0,-3.6 Z" fill="#fff"/>
<path transform="translate(993.3 722.5) rotate(143.9)" d="M0,-3.6 L11,-3.6 A3.6,3.6 0 0 1 11,3.6 L0,3.6 A3.6,3.6 0 0 1 0,-3.6 Z" fill="#fff"/>
<path transform="translate(974.7 734.1) rotate(155.5)" d="M0,-3.6 L11,-3.6 A3.6,3.6 0 0 1 11,3.6 L0,3.6 A3.6,3.6 0 0 1 0,-3.6 Z" fill="#fff"/>
<path transform="translate(954.6 743) rotate(157.5)" d="M0,-3.6 L11,-3.6 A3.6,3.6 0 0 1 11,3.6 L0,3.6 A3.6,3.6 0 0 1 0,-3.6 Z" fill="#fff"/>
<path transform="translate(934.3 751.4) rotate(157.7)" d="M0,-3.6 L11,-3.6 A3.6,3.6 0 0 1 11,3.6 L0,3.6 A3.6,3.6 0 0 1 0,-3.6 Z" fill="#fff"/>
<path transform="translate(913.9 759.6) rotate(158.7)" d="M0,-3.6 L11,-3.6 A3.6,3.6 0 0 1 11,3.6 L0,3.6 A3.6,3.6 0 0 1 0,-3.6 Z" fill="#fff"/>
<path transform="translate(893.3 767.5) rotate(159.7)" d="M0,-3.6 L11,-3.6 A3.6,3.6 0 0 1 11,3.6 L0,3.6 A3.6,3.6 0 0 1 0,-3.6 Z" fill="#fff"/>
<path transform="translate(872.7 775.1) rotate(160)" d="M0,-3.6 L11,-3.6 A3.6,3.6 0 0 1 11,3.6 L0,3.6 A3.6,3.6 0 0 1 0,-3.6 Z" fill="#fff"/>
<path transform="translate(852 782.7) rotate(159.3)" d="M0,-3.6 L11,-3.6 A3.6,3.6 0 0 1 11,3.6 L0,3.6 A3.6,3.6 0 0 1 0,-3.6 Z" fill="#fff"/>
<path transform="translate(831.5 790.7) rotate(155.5)" d="M0,-3.6 L11,-3.6 A3.6,3.6 0 0 1 11,3.6 L0,3.6 A3.6,3.6 0 0 1 0,-3.6 Z" fill="#fff"/>
<path transform="translate(845.7 738.6) rotate(-43.3)" d="M0,-4.5 L11,-4.5 A4.5,4.5 0 0 1 11,4.5 L0,4.5 A4.5,4.5 0 0 1 0,-4.5 Z" fill="#fff"/>
<path transform="translate(861.7 723.5) rotate(-43.1)" d="M0,-4.5 L11,-4.5 A4.5,4.5 0 0 1 11,4.5 L0,4.5 A4.5,4.5 0 0 1 0,-4.5 Z" fill="#fff"/>
<path transform="translate(877.8 708.5) rotate(-42.2)" d="M0,-4.5 L11,-4.5 A4.5,4.5 0 0 1 11,4.5 L0,4.5 A4.5,4.5 0 0 1 0,-4.5 Z" fill="#fff"/>
<path transform="translate(894.2 693.9) rotate(-39.6)" d="M0,-4.5 L11,-4.5 A4.5,4.5 0 0 1 11,4.5 L0,4.5 A4.5,4.5 0 0 1 0,-4.5 Z" fill="#fff"/>
<path transform="translate(911.4 680.1) rotate(-36.1)" d="M0,-4.5 L11,-4.5 A4.5,4.5 0 0 1 11,4.5 L0,4.5 A4.5,4.5 0 0 1 0,-4.5 Z" fill="#fff"/>
<path transform="translate(929.3 667.3) rotate(-34.1)" d="M0,-4.5 L11,-4.5 A4.5,4.5 0 0 1 11,4.5 L0,4.5 A4.5,4.5 0 0 1 0,-4.5 Z" fill="#fff"/>
<path transform="translate(947.5 655) rotate(-34.4)" d="M0,-4.5 L11,-4.5 A4.5,4.5 0 0 1 11,4.5 L0,4.5 A4.5,4.5 0 0 1 0,-4.5 Z" fill="#fff"/>
<path transform="translate(965.6 642.5) rotate(-34)" d="M0,-4.5 L11,-4.5 A4.5,4.5 0 0 1 11,4.5 L0,4.5 A4.5,4.5 0 0 1 0,-4.5 Z" fill="#fff"/>
<path transform="translate(984.4 631.2) rotate(-8.4)" d="M0,-4.5 L10.9,-4.5 A4.5,4.5 0 0 1 10.9,4.5 L0,4.5 A4.5,4.5 0 0 1 0,-4.5 Z" fill="#fff"/>
<path transform="translate(1005.3 633.8) rotate(53.1)" d="M0,-4.5 L10.9,-4.5 A4.5,4.5 0 0 1 10.9,4.5 L0,4.5 A4.5,4.5 0 0 1 0,-4.5 Z" fill="#fff"/>
<path transform="translate(1015.5 652.9) rotate(81.6)" d="M0,-4.5 L11,-4.5 A4.5,4.5 0 0 1 11,4.5 L0,4.5 A4.5,4.5 0 0 1 0,-4.5 Z" fill="#fff"/>
<path transform="translate(1016.5 674.7) rotate(98.8)" d="M0,-4.5 L11,-4.5 A4.5,4.5 0 0 1 11,4.5 L0,4.5 A4.5,4.5 0 0 1 0,-4.5 Z" fill="#fff"/>
<path transform="translate(1012.3 696.3) rotate(111.9)" d="M0,-4.5 L11,-4.5 A4.5,4.5 0 0 1 11,4.5 L0,4.5 A4.5,4.5 0 0 1 0,-4.5 Z" fill="#fff"/>
<path transform="translate(1001.5 715.1) rotate(137.7)" d="M0,-4.5 L11,-4.5 A4.5,4.5 0 0 1 11,4.5 L0,4.5 A4.5,4.5 0 0 1 0,-4.5 Z" fill="#fff"/>
<path transform="translate(984.4 729) rotate(152)" d="M0,-4.5 L11,-4.5 A4.5,4.5 0 0 1 11,4.5 L0,4.5 A4.5,4.5 0 0 1 0,-4.5 Z" fill="#fff"/>
<path transform="translate(964.7 738.7) rotate(157)" d="M0,-4.5 L11,-4.5 A4.5,4.5 0 0 1 11,4.5 L0,4.5 A4.5,4.5 0 0 1 0,-4.5 Z" fill="#fff"/>
<path transform="translate(944.4 747.2) rotate(157.5)" d="M0,-4.5 L11,-4.5 A4.5,4.5 0 0 1 11,4.5 L0,4.5 A4.5,4.5 0 0 1 0,-4.5 Z" fill="#fff"/>
<path transform="translate(924.1 755.5) rotate(158.2)" d="M0,-4.5 L11,-4.5 A4.5,4.5 0 0 1 11,4.5 L0,4.5 A4.5,4.5 0 0 1 0,-4.5 Z" fill="#fff"/>
<path transform="translate(903.6 763.6) rotate(159.2)" d="M0,-4.5 L11,-4.5 A4.5,4.5 0 0 1 11,4.5 L0,4.5 A4.5,4.5 0 0 1 0,-4.5 Z" fill="#fff"/>
<path transform="translate(883 771.3) rotate(159.9)" d="M0,-4.5 L11,-4.5 A4.5,4.5 0 0 1 11,4.5 L0,4.5 A4.5,4.5 0 0 1 0,-4.5 Z" fill="#fff"/>
<path transform="translate(862.3 778.9) rotate(159.8)" d="M0,-4.5 L11,-4.5 A4.5,4.5 0 0 1 11,4.5 L0,4.5 A4.5,4.5 0 0 1 0,-4.5 Z" fill="#fff"/>
<path transform="translate(841.7 786.5) rotate(158)" d="M0,-4.5 L11,-4.5 A4.5,4.5 0 0 1 11,4.5 L0,4.5 A4.5,4.5 0 0 1 0,-4.5 Z" fill="#fff"/>
<path d="M848.3,738.6 a2.6,2.6 0 1 0 0.01,0 M856.3,731.1 a2.6,2.6 0 1 0 0.01,0 M864.3,723.5 a2.6,2.6 0 1 0 0.01,0 M872.3,716 a2.6,2.6 0 1 0 0.01,0 M880.4,708.5 a2.6,2.6 0 1 0 0.01,0 M888.5,701.1 a2.6,2.6 0 1 0 0.01,0 M896.8,693.9 a2.6,2.6 0 1 0 0.01,0 M905.3,686.9 a2.6,2.6 0 1 0 0.01,0 M914,680.1 a2.6,2.6 0 1 0 0.01,0 M922.8,673.6 a2.6,2.6 0 1 0 0.01,0 M931.9,667.3 a2.6,2.6 0 1 0 0.01,0 M941,661.2 a2.6,2.6 0 1 0 0.01,0 M950.1,655 a2.6,2.6 0 1 0 0.01,0 M959.2,648.8 a2.6,2.6 0 1 0 0.01,0 M968.2,642.5 a2.6,2.6 0 1 0 0.01,0 M977.3,636.4 a2.6,2.6 0 1 0 0.01,0 M987,631.2 a2.6,2.6 0 1 0 0.01,0 M997.8,629.7 a2.6,2.6 0 1 0 0.01,0 M1007.9,633.8 a2.6,2.6 0 1 0 0.01,0 M1014.4,642.6 a2.6,2.6 0 1 0 0.01,0 M1018.1,652.9 a2.6,2.6 0 1 0 0.01,0 M1019.7,663.8 a2.6,2.6 0 1 0 0.01,0 M1019.1,674.7 a2.6,2.6 0 1 0 0.01,0 M1017.4,685.6 a2.6,2.6 0 1 0 0.01,0 M1014.9,696.3 a2.6,2.6 0 1 0 0.01,0 M1010.8,706.5 a2.6,2.6 0 1 0 0.01,0 M1004.1,715.1 a2.6,2.6 0 1 0 0.01,0 M995.9,722.5 a2.6,2.6 0 1 0 0.01,0 M987,729 a2.6,2.6 0 1 0 0.01,0 M977.3,734.1 a2.6,2.6 0 1 0 0.01,0 M967.3,738.7 a2.6,2.6 0 1 0 0.01,0 M957.2,743 a2.6,2.6 0 1 0 0.01,0 M947,747.2 a2.6,2.6 0 1 0 0.01,0 M936.9,751.4 a2.6,2.6 0 1 0 0.01,0 M926.7,755.5 a2.6,2.6 0 1 0 0.01,0 M916.5,759.6 a2.6,2.6 0 1 0 0.01,0 M906.2,763.6 a2.6,2.6 0 1 0 0.01,0 M895.9,767.5 a2.6,2.6 0 1 0 0.01,0 M885.6,771.3 a2.6,2.6 0 1 0 0.01,0 M875.3,775.1 a2.6,2.6 0 1 0 0.01,0 M864.9,778.9 a2.6,2.6 0 1 0 0.01,0 M854.6,782.7 a2.6,2.6 0 1 0 0.01,0 M844.3,786.5 a2.6,2.6 0 1 0 0.01,0 M834.1,790.7 a2.6,2.6 0 1 0 0.01,0 M824.1,795.2 a2.6,2.6 0 1 0 0.01,0"/>
<path transform="translate(871.4 725.1) rotate(-42.9)" d="M0,-3.6 L11,-3.6 A3.6,3.6 0 0 1 11,3.6 L0,3.6 A3.6,3.6 0 0 1 0,-3.6 Z" fill="#fff"/>
<path transform="translate(887.5 710.2) rotate(-41.7)" d="M0,-3.6 L11,-3.6 A3.6,3.6 0 0 1 11,3.6 L0,3.6 A3.6,3.6 0 0 1 0,-3.6 Z" fill="#fff"/>
<path transform="translate(904.1 695.7) rotate(-38.5)" d="M0,-3.6 L11,-3.6 A3.6,3.6 0 0 1 11,3.6 L0,3.6 A3.6,3.6 0 0 1 0,-3.6 Z" fill="#fff"/>
<path transform="translate(921.5 682.3) rotate(-35.3)" d="M0,-3.6 L11,-3.6 A3.6,3.6 0 0 1 11,3.6 L0,3.6 A3.6,3.6 0 0 1 0,-3.6 Z" fill="#fff"/>
<path transform="translate(939.6 669.8) rotate(-33.9)" d="M0,-3.6 L11,-3.6 A3.6,3.6 0 0 1 11,3.6 L0,3.6 A3.6,3.6 0 0 1 0,-3.6 Z" fill="#fff"/>
<path transform="translate(957.8 657.5) rotate(-35)" d="M0,-3.6 L11,-3.6 A3.6,3.6 0 0 1 11,3.6 L0,3.6 A3.6,3.6 0 0 1 0,-3.6 Z" fill="#fff"/>
<path transform="translate(975.9 644.9) rotate(-30.5)" d="M0,-3.6 L11,-3.6 A3.6,3.6 0 0 1 11,3.6 L0,3.6 A3.6,3.6 0 0 1 0,-3.6 Z" fill="#fff"/>
<path transform="translate(996 637.8) rotate(40.2)" d="M0,-3.6 L10.7,-3.6 A3.6,3.6 0 0 1 10.7,3.6 L0,3.6 A3.6,3.6 0 0 1 0,-3.6 Z" fill="#fff"/>
<path transform="translate(1008 655) rotate(82.9)" d="M0,-3.6 L11,-3.6 A3.6,3.6 0 0 1 11,3.6 L0,3.6 A3.6,3.6 0 0 1 0,-3.6 Z" fill="#fff"/>
<path transform="translate(1008.4 676.8) rotate(100.1)" d="M0,-3.6 L11,-3.6 A3.6,3.6 0 0 1 11,3.6 L0,3.6 A3.6,3.6 0 0 1 0,-3.6 Z" fill="#fff"/>
<path transform="translate(1003.5 698.2) rotate(121.1)" d="M0,-3.6 L10.9,-3.6 A3.6,3.6 0 0 1 10.9,3.6 L0,3.6 A3.6,3.6 0 0 1 0,-3.6 Z" fill="#fff"/>
<path transform="translate(989.9 715.1) rotate(142.4)" d="M0,-3.6 L11,-3.6 A3.6,3.6 0 0 1 11,3.6 L0,3.6 A3.6,3.6 0 0 1 0,-3.6 Z" fill="#fff"/>
<path transform="translate(971.5 727) rotate(155.5)" d="M0,-3.6 L11,-3.6 A3.6,3.6 0 0 1 11,3.6 L0,3.6 A3.6,3.6 0 0 1 0,-3.6 Z" fill="#fff"/>
<path transform="translate(951.3 735.9) rotate(157.5)" d="M0,-3.6 L11,-3.6 A3.6,3.6 0 0 1 11,3.6 L0,3.6 A3.6,3.6 0 0 1 0,-3.6 Z" fill="#fff"/>
<path transform="translate(931 744.3) rotate(157.8)" d="M0,-3.6 L11,-3.6 A3.6,3.6 0 0 1 11,3.6 L0,3.6 A3.6,3.6 0 0 1 0,-3.6 Z" fill="#fff"/>
<path transform="translate(910.6 752.5) rotate(158.8)" d="M0,-3.6 L11,-3.6 A3.6,3.6 0 0 1 11,3.6 L0,3.6 A3.6,3.6 0 0 1 0,-3.6 Z" fill="#fff"/>
<path transform="translate(890.1 760.4) rotate(159.8)" d="M0,-3.6 L11,-3.6 A3.6,3.6 0 0 1 11,3.6 L0,3.6 A3.6,3.6 0 0 1 0,-3.6 Z" fill="#fff"/>
<path transform="translate(869.4 768) rotate(160)" d="M0,-3.6 L11,-3.6 A3.6,3.6 0 0 1 11,3.6 L0,3.6 A3.6,3.6 0 0 1 0,-3.6 Z" fill="#fff"/>
<path transform="translate(848.8 775.6) rotate(159.3)" d="M0,-3.6 L11,-3.6 A3.6,3.6 0 0 1 11,3.6 L0,3.6 A3.6,3.6 0 0 1 0,-3.6 Z" fill="#fff"/>
<path transform="translate(863.3 732.7) rotate(-43.2)" d="M0,-4.5 L11,-4.5 A4.5,4.5 0 0 1 11,4.5 L0,4.5 A4.5,4.5 0 0 1 0,-4.5 Z" fill="#fff"/>
<path transform="translate(879.4 717.6) rotate(-42.4)" d="M0,-4.5 L11,-4.5 A4.5,4.5 0 0 1 11,4.5 L0,4.5 A4.5,4.5 0 0 1 0,-4.5 Z" fill="#fff"/>
<path transform="translate(895.7 702.9) rotate(-40.5)" d="M0,-4.5 L11,-4.5 A4.5,4.5 0 0 1 11,4.5 L0,4.5 A4.5,4.5 0 0 1 0,-4.5 Z" fill="#fff"/>
<path transform="translate(912.7 688.9) rotate(-36.8)" d="M0,-4.5 L11,-4.5 A4.5,4.5 0 0 1 11,4.5 L0,4.5 A4.5,4.5 0 0 1 0,-4.5 Z" fill="#fff"/>
<path transform="translate(930.5 676) rotate(-34.4)" d="M0,-4.5 L11,-4.5 A4.5,4.5 0 0 1 11,4.5 L0,4.5 A4.5,4.5 0 0 1 0,-4.5 Z" fill="#fff"/>
<path transform="translate(948.7 663.6) rotate(-34.1)" d="M0,-4.5 L11,-4.5 A4.5,4.5 0 0 1 11,4.5 L0,4.5 A4.5,4.5 0 0 1 0,-4.5 Z" fill="#fff"/>
<path transform="translate(966.8 651.2) rotate(-34.7)" d="M0,-4.5 L11,-4.5 A4.5,4.5 0 0 1 11,4.5 L0,4.5 A4.5,4.5 0 0 1 0,-4.5 Z" fill="#fff"/>
<path transform="translate(985.4 639.3) rotate(-8.1)" d="M0,-4.5 L10.7,-4.5 A4.5,4.5 0 0 1 10.7,4.5 L0,4.5 A4.5,4.5 0 0 1 0,-4.5 Z" fill="#fff"/>
<path transform="translate(1004.1 644.7) rotate(69.4)" d="M0,-4.5 L11,-4.5 A4.5,4.5 0 0 1 11,4.5 L0,4.5 A4.5,4.5 0 0 1 0,-4.5 Z" fill="#fff"/>
<path transform="translate(1009.3 665.9) rotate(94.9)" d="M0,-4.5 L11,-4.5 A4.5,4.5 0 0 1 11,4.5 L0,4.5 A4.5,4.5 0 0 1 0,-4.5 Z" fill="#fff"/>
<path transform="translate(1006.5 687.6) rotate(105.7)" d="M0,-4.5 L11,-4.5 A4.5,4.5 0 0 1 11,4.5 L0,4.5 A4.5,4.5 0 0 1 0,-4.5 Z" fill="#fff"/>
<path transform="translate(997.9 707.6) rotate(136.6)" d="M0,-4.5 L11,-4.5 A4.5,4.5 0 0 1 11,4.5 L0,4.5 A4.5,4.5 0 0 1 0,-4.5 Z" fill="#fff"/>
<path transform="translate(981.2 721.8) rotate(151.8)" d="M0,-4.5 L11,-4.5 A4.5,4.5 0 0 1 11,4.5 L0,4.5 A4.5,4.5 0 0 1 0,-4.5 Z" fill="#fff"/>
<path transform="translate(961.5 731.6) rotate(157.1)" d="M0,-4.5 L11,-4.5 A4.5,4.5 0 0 1 11,4.5 L0,4.5 A4.5,4.5 0 0 1 0,-4.5 Z" fill="#fff"/>
<path transform="translate(941.2 740.1) rotate(157.5)" d="M0,-4.5 L11,-4.5 A4.5,4.5 0 0 1 11,4.5 L0,4.5 A4.5,4.5 0 0 1 0,-4.5 Z" fill="#fff"/>
<path transform="translate(920.8 748.4) rotate(158.3)" d="M0,-4.5 L11,-4.5 A4.5,4.5 0 0 1 11,4.5 L0,4.5 A4.5,4.5 0 0 1 0,-4.5 Z" fill="#fff"/>
<path transform="translate(900.4 756.5) rotate(159.3)" d="M0,-4.5 L11,-4.5 A4.5,4.5 0 0 1 11,4.5 L0,4.5 A4.5,4.5 0 0 1 0,-4.5 Z" fill="#fff"/>
<path transform="translate(879.7 764.2) rotate(159.9)" d="M0,-4.5 L11,-4.5 A4.5,4.5 0 0 1 11,4.5 L0,4.5 A4.5,4.5 0 0 1 0,-4.5 Z" fill="#fff"/>
<path transform="translate(859.1 771.7) rotate(159.8)" d="M0,-4.5 L11,-4.5 A4.5,4.5 0 0 1 11,4.5 L0,4.5 A4.5,4.5 0 0 1 0,-4.5 Z" fill="#fff"/>
<path transform="translate(838.5 779.4) rotate(157.9)" d="M0,-4.5 L11,-4.5 A4.5,4.5 0 0 1 11,4.5 L0,4.5 A4.5,4.5 0 0 1 0,-4.5 Z" fill="#fff"/>
<path d="M865.9,732.7 a2.6,2.6 0 1 0 0.01,0 M874,725.1 a2.6,2.6 0 1 0 0.01,0 M882,717.6 a2.6,2.6 0 1 0 0.01,0 M890.1,710.2 a2.6,2.6 0 1 0 0.01,0 M898.3,702.9 a2.6,2.6 0 1 0 0.01,0 M906.7,695.7 a2.6,2.6 0 1 0 0.01,0 M915.3,688.9 a2.6,2.6 0 1 0 0.01,0 M924.1,682.3 a2.6,2.6 0 1 0 0.01,0 M933.1,676 a2.6,2.6 0 1 0 0.01,0 M942.2,669.8 a2.6,2.6 0 1 0 0.01,0 M951.3,663.6 a2.6,2.6 0 1 0 0.01,0 M960.4,657.5 a2.6,2.6 0 1 0 0.01,0 M969.4,651.2 a2.6,2.6 0 1 0 0.01,0 M978.5,644.9 a2.6,2.6 0 1 0 0.01,0 M988,639.3 a2.6,2.6 0 1 0 0.01,0 M998.6,637.8 a2.6,2.6 0 1 0 0.01,0 M1006.7,644.7 a2.6,2.6 0 1 0 0.01,0 M1010.6,655 a2.6,2.6 0 1 0 0.01,0 M1011.9,665.9 a2.6,2.6 0 1 0 0.01,0 M1011,676.8 a2.6,2.6 0 1 0 0.01,0 M1009.1,687.6 a2.6,2.6 0 1 0 0.01,0 M1006.1,698.2 a2.6,2.6 0 1 0 0.01,0 M1000.5,707.6 a2.6,2.6 0 1 0 0.01,0 M992.5,715.1 a2.6,2.6 0 1 0 0.01,0 M983.8,721.8 a2.6,2.6 0 1 0 0.01,0 M974.1,727 a2.6,2.6 0 1 0 0.01,0 M964.1,731.6 a2.6,2.6 0 1 0 0.01,0 M953.9,735.9 a2.6,2.6 0 1 0 0.01,0 M943.8,740.1 a2.6,2.6 0 1 0 0.01,0 M933.6,744.3 a2.6,2.6 0 1 0 0.01,0 M923.4,748.4 a2.6,2.6 0 1 0 0.01,0 M913.2,752.5 a2.6,2.6 0 1 0 0.01,0 M903,756.5 a2.6,2.6 0 1 0 0.01,0 M892.7,760.4 a2.6,2.6 0 1 0 0.01,0 M882.3,764.2 a2.6,2.6 0 1 0 0.01,0 M872,768 a2.6,2.6 0 1 0 0.01,0 M861.7,771.7 a2.6,2.6 0 1 0 0.01,0 M851.4,775.6 a2.6,2.6 0 1 0 0.01,0 M841.1,779.4 a2.6,2.6 0 1 0 0.01,0 M830.9,783.6 a2.6,2.6 0 1 0 0.01,0"/>
</g>
<path d="M838,728 L852,718 M865,744 L876,737 M818,784 L836,776 M838,804 L852,798"/>
<path d="M488.7,819.3 L563.7,787.5 C566,782 572,778 580,777.5 C586,777 590,778 592,781 L796,701 C808,697 818,700 823,706 C825,712 823,718 822,721.5 L608,816 L507.5,847.5 C498,849 486,845 482,837 C479,829 482,822 488.7,819.3 Z" fill="#fff"/>
<path d="M507.5,832.5 L588,794.4 L612,786 L816,712 Q824,709 822,716 M507.5,832.5 C503,838 503,844 507.5,847.5"/>
<path d="M576,795 C572,791 573,785 580,783 C586,782 590,784 589,788"/>
<path d="M518,830 L540,819.6 L537,835.3 L515,842.1 Z"/>
<path d="M521,831 L517,839.1 L536,832.3" stroke-width="1.6"/>
<path d="M543,818.2 L555,812.5 L552,830.6 L540,834.3 Z"/>
<path d="M546,819.2 L542,831.3 L551,827.6" stroke-width="1.6"/>
<path d="M558,811.1 L572,804.5 L569,825.2 L555,829.6 Z"/>
<path d="M561,812.1 L557,826.6 L568,822.2" stroke-width="1.6"/>
<path d="M575,803.1 L590,796.2 L587,819.6 L572,824.3 Z"/>
<path d="M578,804.1 L574,821.3 L586,816.6" stroke-width="1.6"/>
<path d="M616,787.1 L639,778.9 L636,800.8 L613,810.8 Z"/>
<path d="M619,788.1 L615,807.8 L635,797.8" stroke-width="1.6"/>
<path d="M644,777.1 L669,768.2 L666,787.6 L641,798.6 Z"/>
<path d="M647,778.1 L643,795.6 L665,784.6" stroke-width="1.6"/>
<path d="M672,767.2 L694,759.3 L691,776.7 L669,786.3 Z"/>
<path d="M675,768.2 L671,783.3 L690,773.7" stroke-width="1.6"/>
<path d="M699,757.5 L721,749.7 L718,764.9 L696,774.5 Z"/>
<path d="M702,758.5 L698,771.5 L717,761.9" stroke-width="1.6"/>
<path d="M724,748.7 L743,741.9 L740,755.2 L721,763.6 Z"/>
<path d="M727,749.7 L723,760.6 L739,752.2" stroke-width="1.6"/>
<path d="M748,740.1 L767,733.4 L764,744.8 L745,753.1 Z"/>
<path d="M751,741.1 L747,750.1 L763,741.8" stroke-width="1.6"/>
<path d="M779,729.1 L798,722.3 L795,731.2 L776,739.5 Z"/>
<path d="M782,730.1 L778,736.5 L794,728.2" stroke-width="1.6"/>
<path d="M802,720.9 L821,714.5 L818,721.1 L799,729.4 Z"/>
<path d="M805,721.9 L801,726.4 L817,718.1" stroke-width="1.6"/>
<ellipse cx="599" cy="804.5" rx="6.5" ry="7.5" transform="rotate(15 599 804.5)" fill="#fff"/>
<path d="M601,799.5 A4,5 0 1 0 602,808.5"/>
<path d="M757,741 A3,4 0 1 0 759,747"/>
<path d="M852,872 L836.4,870.3 C826,870 824,894 836.4,894.5 L852,897 Z" fill="#fff"/>
<path d="M862,854 C855,853 853,869 858,870 L862,870 Z" fill="#fff"/>
<path d="M846,983 L830,983 C822,985 822,1006 830,1007.4 L846,1008 Z" fill="#fff"/>
<path d="M874.6,822.5 C878,812 884,809 890,809.2 C900,809.5 906,813 909,828 L886.8,996.2 C885,1008 872,1016 860.6,1014 C852,1017 844,1017 840,1012 C836,1006 835.5,1000 836,993 Z" fill="#fff"/>
<path d="M882.5,828 C886,817 892,814.6 897,815 C903,816 905,822 905,832 L884,993 M882.5,828 L846,1005 C847,1012 850,1014 853,1014"/>
<ellipse cx="893.7" cy="833.7" rx="10" ry="12.4" transform="rotate(12 893.7 833.7)" fill="#fff"/>
<ellipse cx="894.5" cy="833" rx="7" ry="9.5" transform="rotate(12 894.5 833)"/>
<path d="M897,828 A4,6 0 1 0 898,839"/>
<ellipse cx="896" cy="877.6" rx="7" ry="9.5" transform="rotate(15 896 877.6)" fill="#fff"/>
<path d="M897.5,872.6 A3.5,5.5 0 1 0 898,882.6"/>
<ellipse cx="867.9" cy="894.5" rx="7" ry="9.5" transform="rotate(15 867.9 894.5)" fill="#fff"/>
<path d="M869.4,889.5 A3.5,5.5 0 1 0 869.9,899.5"/>
<ellipse cx="876.5" cy="990.5" rx="7" ry="9.5" transform="rotate(15 876.5 990.5)" fill="#fff"/>
<path d="M878,985.5 A3.5,5.5 0 1 0 878.5,995.5"/>
<ellipse cx="853.5" cy="1003.5" rx="7" ry="9.5" transform="rotate(15 853.5 1003.5)" fill="#fff"/>
<path d="M855,998.5 A3.5,5.5 0 1 0 855.5,1008.5"/>
<path d="M890,851 L903,848 L902,863 L889,866 Z M878,878 L885,876 L883,894 L878,891 Z M873,848 L882,845 L869,872 L864,874 Z M866,877 L880,868"/>
<path d="M860.6,910 L871.8,908 L862.5,990.6 L851.2,988.7 Z M877.5,902.5 L883,900.6 L871.8,982 L866.2,983 Z M892.5,898.7 L900,889.4 L885,979.3 L877.5,979.3 Z"/>
<path d="M557.7,982.8 C570,965 585,950 600,940 C630,918 665,900 700,895.6 C735,892 770,898 799.5,911 C808,914 816,916 822,919.4 C824,922 823,925 820.6,925.7 C812,922 800,918 784,915 L750.3,929.2 C745,931 742,932 739,933.4 L700,953.3 L641.4,982.8 C638,990 634,994 628,994 C622,994 618,992 616,991 L588,1002.5 L562.7,987 Z" fill="#fff"/>
<path d="M562.7,987 C580,968 598,952 620,939 C650,922 675,911 700,908.3 C735,904 770,907 799.5,916.6 C808,919 815,922 820.6,925.7"/>
<path d="M583,994 C598,976 613,960 632,947 C660,929 680,919 700,914 C730,909 760,910 784,915"/>
<path d="M616,991 C625,985 630,978 634.4,973 L680,949 L722,933.4 L750.3,929.2"/>
<path d="M588,1002.5 L562.7,987" />
<path d="M606,990 L616,962 L628,977 L640,943 L652,964 L665,928 L677,950.5 L690,917.5 L702,940.5 L715,912 L727,932.6 L738,910.5" stroke-width="2"/>
<path d="M620,966 L626,974 M644,946 L650,960 M669,931 L675,946 M694,920 L700,936 M719,914 L725,929" stroke-width="1.6"/>
<path d="M645,978 L650,968 L656,972 L661,962 L667,966 L672,957 L678,961 L683,952 L689,956 L694,948 L700,951 L705,944 L712,946 L716,939 L722,941 L727,936" stroke-width="1.5"/>
<path d="M592,996 L604,985 L606,996 Z M607,988 L617,981 L618,991 Z" stroke-width="1.6"/>
<path d="M749,930 C752,937 772,939 781,925 C782,921 780,918 778,917"/>
<path d="M743,918 A4,5 0 1 0 748,928 M740,924 L739,931 L747,933"/>
<ellipse cx="628" cy="984.2" rx="7.5" ry="8.5" transform="rotate(15 628 984.2)" fill="#fff"/>
<ellipse cx="628.8" cy="984.5" rx="4.3" ry="5.2" transform="rotate(15 628.8 984.5)"/>
<ellipse cx="652.2" cy="828" rx="10.3" ry="13" transform="rotate(15 652.2 828)" fill="#fff"/>
<ellipse cx="653.7" cy="827.5" rx="10.3" ry="13" transform="rotate(15 653.7 827.5)" fill="#fff"/>
<ellipse cx="654.2" cy="827.5" rx="5.5" ry="9" transform="rotate(15 654.2 827.5)"/>
<ellipse cx="680.5" cy="1007.5" rx="10.3" ry="13" transform="rotate(15 680.5 1007.5)" fill="#fff"/>
<ellipse cx="682" cy="1007" rx="10.3" ry="13" transform="rotate(15 682 1007)" fill="#fff"/>
<ellipse cx="682.5" cy="1007" rx="5.5" ry="9" transform="rotate(15 682.5 1007)"/>
<ellipse cx="899" cy="1022" rx="7.2" ry="10" transform="rotate(15 899 1022)" fill="#fff"/>
<ellipse cx="900" cy="1022" rx="3.5" ry="6.5" transform="rotate(15 900 1022)"/>
<g transform="translate(671.6 836.5) rotate(20.9) scale(1)">
<path d="M3,-4.3 L8,-4.3 L8,-7 L23,-7 L23,-6.5 L46,-6.5 L46,-8 L63,-10.5 L63,10.5 L46,8 L46,6.5 L23,6.5 L23,7 L8,7 L8,4.3 L3,4.3 A3,4.3 0 0 1 3,-4.3 Z" fill="#fff"/>
<path d="M8,-4.3 A3,4.3 0 0 0 8,4.3 M23,-6.5 A3,6.5 0 0 0 23,6.5 M46,-6.5 A3,6.5 0 0 0 46,6.5 M15,-7 L17,-1 L14,3 L16,7"/>
<path d="M50,-9 A3,9.5 0 0 0 50,9.5"/>
<path d="M54,-9 A3,9.5 0 0 0 54,9.5"/>
<path d="M58,-9 A3,9.5 0 0 0 58,9.5"/>
<path d="M62,-13 L70,-13.6 L70,13.6 L62,13 Z" fill="#fff"/>
<ellipse cx="62" cy="0" rx="5" ry="13" fill="#fff"/>
<ellipse cx="70" cy="0" rx="8.5" ry="13.6" fill="#fff"/>
<path d="M72,-6 A4,6 0 1 0 73,6 M69,0 L73,-1"/>
</g>
<g transform="translate(703 1014) rotate(23.1) scale(1)">
<path d="M3,-4.3 L8,-4.3 L8,-7 L23,-7 L23,-6.5 L46,-6.5 L46,-8 L63,-10.5 L63,10.5 L46,8 L46,6.5 L23,6.5 L23,7 L8,7 L8,4.3 L3,4.3 A3,4.3 0 0 1 3,-4.3 Z" fill="#fff"/>
<path d="M8,-4.3 A3,4.3 0 0 0 8,4.3 M23,-6.5 A3,6.5 0 0 0 23,6.5 M46,-6.5 A3,6.5 0 0 0 46,6.5 M15,-7 L17,-1 L14,3 L16,7"/>
<path d="M50,-9 A3,9.5 0 0 0 50,9.5"/>
<path d="M54,-9 A3,9.5 0 0 0 54,9.5"/>
<path d="M58,-9 A3,9.5 0 0 0 58,9.5"/>
<path d="M62,-13 L70,-13.6 L70,13.6 L62,13 Z" fill="#fff"/>
<ellipse cx="62" cy="0" rx="5" ry="13" fill="#fff"/>
<ellipse cx="70" cy="0" rx="8.5" ry="13.6" fill="#fff"/>
<path d="M72,-6 A4,6 0 1 0 73,6 M69,0 L73,-1"/>
</g>
<g transform="translate(810 870.6) rotate(15)">
<path d="M-12,-10 L0,-10 A6.5,10 0 0 1 0,10 L-12,10 A6.5,10 0 0 1 -12,-10 Z" fill="#fff"/>
<ellipse cx="0" cy="0" rx="6.5" ry="10"/>
<path d="M1.5,-4 A2.5,4 0 1 0 2,4"/>
</g>
<g transform="translate(806 983.5) rotate(15)">
<path d="M-12,-10 L0,-10 A6.5,10 0 0 1 0,10 L-12,10 A6.5,10 0 0 1 -12,-10 Z" fill="#fff"/>
<ellipse cx="0" cy="0" rx="6.5" ry="10"/>
<path d="M1.5,-4 A2.5,4 0 1 0 2,4"/>
</g>
<g transform="translate(930 846.2) rotate(21)"><path d="M3,-5.5 L29,-5.5 A3,5.5 0 0 1 29,5.5 L3,5.5 A3,5.5 0 0 1 3,-5.5 Z" fill="#fff"/><path d="M3,-1 L27,-1 M29,-5.5 A3,5.5 0 0 0 29,5.5"/></g>
<g transform="translate(919 1028) rotate(23.5)">
<path d="M3,-5 L25.1,-5 L25.1,5 L3,5 A3,5 0 0 1 3,-5 Z" fill="#fff"/>
<path d="M6,-4.7 A2.3,4.8 0 0 0 6,4.7"/>
<path d="M10.1,-4.7 A2.3,4.8 0 0 0 10.1,4.7"/>
<path d="M14.1,-4.7 A2.3,4.8 0 0 0 14.1,4.7"/>
<path d="M18.2,-4.7 A2.3,4.8 0 0 0 18.2,4.7"/>
<path d="M22.2,-4.7 A2.3,4.8 0 0 0 22.2,4.7"/>
<path d="M26.3,-4.7 A2.3,4.8 0 0 0 26.3,4.7"/>
<path d="M26.1,-9.5 L39.1,-10.5 L39.1,10.5 L26.1,9.5 Z" fill="#fff"/>
<ellipse cx="39.1" cy="0" rx="5.2" ry="10.5" fill="#fff"/>
<path d="M27.1,-4.7 L35.4,-5.2 M27.1,4.7 L35.4,5.2 M35.9,-10 L35.4,-5.2 L35.4,5.2 L35.9,10"/>
</g>
<g transform="translate(285 1184) rotate(17)">
<path d="M-44,-12.5 L0,-12.5 A3.5,12.5 0 0 1 0,12.5 L-44,12.5 A3.5,12.5 0 0 1 -44,-12.5 Z" fill="#fff"/>
<path d="M-45,-8 L0,-8 M-45,-3 L0,-3 M-45,3 L0,3 M-45,8 L0,8"/>
</g>
<path d="M450.2,1238.9 L449.3,1242.8 L453.4,1246.1 L452,1251.6 L447,1251.8 L445.8,1255.5 L449.4,1259.7 L447.5,1265 L442.7,1264.1 L441.2,1267.7 L444.2,1272.7 L441.8,1277.6 L437.3,1275.7 L435.4,1279 L437.9,1284.7 L435.1,1289.2 L430.9,1286.4 L428.8,1289.3 L430.6,1295.6 L427.4,1299.5 L423.6,1295.8 L421.3,1298.3 L422.4,1305 L419,1308.4 L415.6,1303.8 L413.1,1305.9 L413.6,1312.9 L409.9,1315.6 L407.1,1310.2 L404.5,1311.8 L404.2,1319 L400.4,1321 L398.3,1315 L395.6,1316.1 L394.6,1323.3 L390.7,1324.4 L389.2,1317.9 L386.5,1318.5 L384.8,1325.6 L380.9,1325.9 L380.1,1319.1 L377.4,1319 L375.1,1325.9 L371.3,1325.4 L371.3,1318.3 L368.7,1317.7 L365.7,1324.1 L362.1,1322.9 L362.7,1315.7 L360.3,1314.5 L356.8,1320.4 L353.4,1318.4 L354.7,1311.2 L352.5,1309.6 L348.5,1314.8 L345.4,1312.1 L347.4,1305.1 L345.4,1302.9 L341.1,1307.4 L338.4,1304 L341,1297.4 L339.3,1294.8 L334.6,1298.4 L332.3,1294.4 L335.5,1288.2 L334.1,1285.2 L329.2,1287.9 L327.4,1283.4 L331.2,1277.8 L330.1,1274.5 L325.1,1276.2 L323.8,1271.2 L328,1266.4 L327.2,1262.8 L322.2,1263.5 L321.5,1258.2 L326,1254.1 L325.7,1250.3 L320.7,1250 L320.5,1244.5 L325.3,1241.3 L325.4,1237.4 L320.6,1236.1 L321,1230.4 L325.9,1228.2 L326.4,1224.3 L321.9,1222 L322.8,1216.3 L327.8,1215.1 L328.7,1211.2 L324.6,1207.9 L326,1202.4 L331,1202.2 L332.2,1198.5 L328.6,1194.3 L330.5,1189 L335.3,1189.9 L336.8,1186.3 L333.8,1181.3 L336.2,1176.4 L340.7,1178.3 L342.6,1175 L340.1,1169.3 L342.9,1164.8 L347.1,1167.6 L349.2,1164.7 L347.4,1158.4 L350.6,1154.5 L354.4,1158.2 L356.7,1155.7 L355.6,1149 L359,1145.6 L362.4,1150.2 L364.9,1148.1 L364.4,1141.1 L368.1,1138.4 L370.9,1143.8 L373.5,1142.2 L373.8,1135 L377.6,1133 L379.7,1139 L382.4,1137.9 L383.4,1130.7 L387.3,1129.6 L388.8,1136.1 L391.5,1135.5 L393.2,1128.4 L397.1,1128.1 L397.9,1134.9 L400.6,1135 L402.9,1128.1 L406.7,1128.6 L406.7,1135.7 L409.3,1136.3 L412.3,1129.9 L415.9,1131.1 L415.3,1138.3 L417.7,1139.5 L421.2,1133.6 L424.6,1135.6 L423.3,1142.8 L425.5,1144.4 L429.5,1139.2 L432.6,1141.9 L430.6,1148.9 L432.6,1151.1 L436.9,1146.6 L439.6,1150 L437,1156.6 L438.7,1159.2 L443.4,1155.6 L445.7,1159.6 L442.5,1165.8 L443.9,1168.8 L448.8,1166.1 L450.6,1170.6 L446.8,1176.2 L447.9,1179.5 L452.9,1177.8 L454.2,1182.8 L450,1187.6 L450.8,1191.2 L455.8,1190.5 L456.5,1195.8 L452,1199.9 L452.3,1203.7 L457.3,1204 L457.5,1209.5 L452.7,1212.7 L452.6,1216.6 L457.4,1217.9 L457,1223.6 L452.1,1225.8 L451.6,1229.7 L456.1,1232 L455.2,1237.7Z" fill="#fff"/>
<path d="M412.5,1325.5 L386.5,1318.5 M410.8,1332.6 L384.8,1325.6 M406.9,1332.9 L380.9,1325.9 M403.4,1326 L377.4,1319 M401.1,1332.9 L375.1,1325.9 M397.3,1332.4 L371.3,1325.4 M394.7,1324.7 L368.7,1317.7 M391.7,1331.1 L365.7,1324.1 M388.1,1329.9 L362.1,1322.9 M386.3,1321.5 L360.3,1314.5 M382.8,1327.4 L356.8,1320.4 M379.4,1325.4 L353.4,1318.4 M378.5,1316.6 L352.5,1309.6 M374.5,1321.8 L348.5,1314.8 M371.4,1319.1 L345.4,1312.1 M371.4,1309.9 L345.4,1302.9 M367.1,1314.4 L341.1,1307.4 M364.4,1311 L338.4,1304 M365.3,1301.8 L339.3,1294.8 M360.6,1305.4 L334.6,1298.4 M358.3,1301.4 L332.3,1294.4 M360.1,1292.2 L334.1,1285.2 M355.2,1294.9 L329.2,1287.9 M353.4,1290.4 L327.4,1283.4 M356.1,1281.5 L330.1,1274.5 M351.1,1283.2 L325.1,1276.2 M349.8,1278.2 L323.8,1271.2 M353.2,1269.8 L327.2,1262.8 M348.2,1270.5 L322.2,1263.5 M347.5,1265.2 L321.5,1258.2 M351.7,1257.3 L325.7,1250.3 M346.7,1257 L320.7,1250 M346.5,1251.5 L320.5,1244.5 M351.4,1244.4 L325.4,1237.4 M346.6,1243.1 L320.6,1236.1 M347,1237.4 L321,1230.4 M352.4,1231.3 L326.4,1224.3 M347.9,1229 L321.9,1222 M348.8,1223.3 L322.8,1216.3 M354.7,1218.2 L328.7,1211.2 M350.6,1214.9 L324.6,1207.9 M352,1209.4 L326,1202.4 M358.2,1205.5 L332.2,1198.5 M354.6,1201.3 L328.6,1194.3 M356.5,1196 L330.5,1189 M362.8,1193.3 L336.8,1186.3 M359.8,1188.3 L333.8,1181.3 M362.2,1183.4 L336.2,1176.4 M368.6,1182 L342.6,1175 M366.1,1176.3 L340.1,1169.3 M368.9,1171.8 L342.9,1164.8 M375.2,1171.7 L349.2,1164.7 M373.4,1165.4 L347.4,1158.4 M376.6,1161.5 L350.6,1154.5 M382.7,1162.7 L356.7,1155.7 M381.6,1156 L355.6,1149 M385,1152.6 L359,1145.6 M390.9,1155.1 L364.9,1148.1 M390.4,1148.1 L364.4,1141.1 M394.1,1145.4 L368.1,1138.4 M399.5,1149.2 L373.5,1142.2 M399.8,1142 L373.8,1135 M403.6,1140 L377.6,1133 M408.4,1144.9 L382.4,1137.9 M409.4,1137.7 L383.4,1130.7 M413.3,1136.6 L387.3,1129.6 M417.5,1142.5 L391.5,1135.5 M419.2,1135.4 L393.2,1128.4 M423.1,1135.1 L397.1,1128.1 M426.6,1142 L400.6,1135 M428.9,1135.1 L402.9,1128.1 M432.7,1135.6 L406.7,1128.6 M435.3,1143.3 L409.3,1136.3 M438.3,1136.9 L412.3,1129.9 M441.9,1138.1 L415.9,1131.1 M443.7,1146.5 L417.7,1139.5 M447.2,1140.6 L421.2,1133.6 M450.6,1142.6 L424.6,1135.6 M451.5,1151.4 L425.5,1144.4 M455.5,1146.2 L429.5,1139.2 M458.6,1148.9 L432.6,1141.9 M458.6,1158.1 L432.6,1151.1 M462.9,1153.6 L436.9,1146.6 M465.6,1157 L439.6,1150"/>
<path d="M476.2,1245.9 L475.3,1249.8 L479.4,1253.1 L478,1258.6 L473,1258.8 L471.8,1262.5 L475.4,1266.7 L473.5,1272 L468.7,1271.1 L467.2,1274.7 L470.2,1279.7 L467.8,1284.6 L463.3,1282.7 L461.4,1286 L463.9,1291.7 L461.1,1296.2 L456.9,1293.4 L454.8,1296.3 L456.6,1302.6 L453.4,1306.5 L449.6,1302.8 L447.3,1305.3 L448.4,1312 L445,1315.4 L441.6,1310.8 L439.1,1312.9 L439.6,1319.9 L435.9,1322.6 L433.1,1317.2 L430.5,1318.8 L430.2,1326 L426.4,1328 L424.3,1322 L421.6,1323.1 L420.6,1330.3 L416.7,1331.4 L415.2,1324.9 L412.5,1325.5 L410.8,1332.6 L406.9,1332.9 L406.1,1326.1 L403.4,1326 L401.1,1332.9 L397.3,1332.4 L397.3,1325.3 L394.7,1324.7 L391.7,1331.1 L388.1,1329.9 L388.7,1322.7 L386.3,1321.5 L382.8,1327.4 L379.4,1325.4 L380.7,1318.2 L378.5,1316.6 L374.5,1321.8 L371.4,1319.1 L373.4,1312.1 L371.4,1309.9 L367.1,1314.4 L364.4,1311 L367,1304.4 L365.3,1301.8 L360.6,1305.4 L358.3,1301.4 L361.5,1295.2 L360.1,1292.2 L355.2,1294.9 L353.4,1290.4 L357.2,1284.8 L356.1,1281.5 L351.1,1283.2 L349.8,1278.2 L354,1273.4 L353.2,1269.8 L348.2,1270.5 L347.5,1265.2 L352,1261.1 L351.7,1257.3 L346.7,1257 L346.5,1251.5 L351.3,1248.3 L351.4,1244.4 L346.6,1243.1 L347,1237.4 L351.9,1235.2 L352.4,1231.3 L347.9,1229 L348.8,1223.3 L353.8,1222.1 L354.7,1218.2 L350.6,1214.9 L352,1209.4 L357,1209.2 L358.2,1205.5 L354.6,1201.3 L356.5,1196 L361.3,1196.9 L362.8,1193.3 L359.8,1188.3 L362.2,1183.4 L366.7,1185.3 L368.6,1182 L366.1,1176.3 L368.9,1171.8 L373.1,1174.6 L375.2,1171.7 L373.4,1165.4 L376.6,1161.5 L380.4,1165.2 L382.7,1162.7 L381.6,1156 L385,1152.6 L388.4,1157.2 L390.9,1155.1 L390.4,1148.1 L394.1,1145.4 L396.9,1150.8 L399.5,1149.2 L399.8,1142 L403.6,1140 L405.7,1146 L408.4,1144.9 L409.4,1137.7 L413.3,1136.6 L414.8,1143.1 L417.5,1142.5 L419.2,1135.4 L423.1,1135.1 L423.9,1141.9 L426.6,1142 L428.9,1135.1 L432.7,1135.6 L432.7,1142.7 L435.3,1143.3 L438.3,1136.9 L441.9,1138.1 L441.3,1145.3 L443.7,1146.5 L447.2,1140.6 L450.6,1142.6 L449.3,1149.8 L451.5,1151.4 L455.5,1146.2 L458.6,1148.9 L456.6,1155.9 L458.6,1158.1 L462.9,1153.6 L465.6,1157 L463,1163.6 L464.7,1166.2 L469.4,1162.6 L471.7,1166.6 L468.5,1172.8 L469.9,1175.8 L474.8,1173.1 L476.6,1177.6 L472.8,1183.2 L473.9,1186.5 L478.9,1184.8 L480.2,1189.8 L476,1194.6 L476.8,1198.2 L481.8,1197.5 L482.5,1202.8 L478,1206.9 L478.3,1210.7 L483.3,1211 L483.5,1216.5 L478.7,1219.7 L478.6,1223.6 L483.4,1224.9 L483,1230.6 L478.1,1232.8 L477.6,1236.7 L482.1,1239 L481.2,1244.7Z" fill="#fff"/>
<g transform="translate(285 1184) rotate(17)">
<path d="M0,-17.5 L41,-17.5 A7,17.5 0 0 1 41,17.5 L0,17.5 A7,17.5 0 0 1 0,-17.5 Z" fill="#fff"/>
<path d="M41,-17.5 A7,17.5 0 0 0 41,17.5"/>
</g>
<ellipse cx="409" cy="1236.5" rx="58" ry="82" transform="rotate(8 409 1236.5)"/>
<path d="M447.6,1244.1 L445.9,1252.3 L443.2,1260 L439.5,1267.3 L434.9,1273.8 L429.6,1279.4 L423.6,1284.1 L417.2,1287.5 L410.4,1289.8 L403.5,1290.8 L396.6,1290.5 L389.9,1288.9 L383.5,1286 L377.6,1282 L372.4,1276.9 L368,1270.8 L364.4,1263.9 L361.8,1256.4 L360.3,1248.4 L359.8,1240.2 L360.4,1231.9 L362.1,1223.7 L364.8,1216 L368.5,1208.7 L373.1,1202.2 L378.4,1196.6 L384.4,1191.9 L390.8,1188.5 L397.6,1186.2 L404.5,1185.2 L411.4,1185.5 L418.1,1187.1 L424.5,1190 L430.4,1194 L435.6,1199.1 L440,1205.2 L443.6,1212.1 L446.2,1219.6 L447.7,1227.6 L448.2,1235.8 L447.6,1244.1Z"/>
<ellipse cx="402" cy="1180.7" rx="7" ry="7.5" fill="#fff"/>
<path d="M399,1174.2 L401,1180.7 L399,1187.2" stroke-width="1.4"/>
<ellipse cx="437.5" cy="1184.5" rx="7" ry="7.5" fill="#fff"/>
<path d="M434.5,1178 L436.5,1184.5 L434.5,1191" stroke-width="1.4"/>
<ellipse cx="447.6" cy="1213.6" rx="7" ry="7.5" fill="#fff"/>
<path d="M444.6,1207.1 L446.6,1213.6 L444.6,1220.1" stroke-width="1.4"/>
<ellipse cx="369.2" cy="1211" rx="7" ry="7.5" fill="#fff"/>
<path d="M366.2,1204.5 L368.2,1211 L366.2,1217.5" stroke-width="1.4"/>
<ellipse cx="356.5" cy="1254" rx="7" ry="7.5" fill="#fff"/>
<path d="M353.5,1247.5 L355.5,1254 L353.5,1260.5" stroke-width="1.4"/>
<ellipse cx="370.4" cy="1287" rx="7" ry="7.5" fill="#fff"/>
<path d="M367.4,1280.5 L369.4,1287 L367.4,1293.5" stroke-width="1.4"/>
<ellipse cx="402" cy="1289.5" rx="7" ry="7.5" fill="#fff"/>
<path d="M399,1283 L401,1289.5 L399,1296" stroke-width="1.4"/>
<g transform="translate(392 1240) rotate(17.7)">
<path d="M6,-28 L34,-28 A11,28 0 0 1 34,28 L6,28 A11,28 0 0 1 6,-28 Z" fill="#fff"/>
<path d="M34,-28 A11,28 0 0 0 34,28"/>
<path d="M34,-22 L72,-22 A8.5,22 0 0 1 72,22 L34,22 A8.5,22 0 0 1 34,-22 Z" fill="#fff"/>
<path d="M80,-27 L88,-27 A17,27 0 0 1 88,27 L80,27 A17,27 0 0 1 80,-27 Z" fill="#fff"/>
<path d="M88,-27 A17,27 0 0 0 88,27"/>
<ellipse cx="90" cy="0" rx="8.2" ry="12"/>
<path d="M92,-8 A5,9 0 0 1 92,8"/>
<path d="M-2,-27 A10,28 0 0 0 -2,27 M3,-27.5 A10,28 0 0 0 3,27.5"/>
</g>
<defs><clipPath id="lc"><circle cx="967" cy="1499" r="100"/></clipPath><filter id="bl"><feGaussianBlur stdDeviation="3"/></filter></defs>
<g stroke="none" clip-path="url(#lc)">
<circle cx="967" cy="1499" r="100" fill="#c88689"/>
<g filter="url(#bl)">
<path d="M860,1440 L920,1420 L925,1480 L860,1490 Z" fill="#bf7b7d"/>
<path d="M860,1490 L925,1478 L925,1530 L860,1525 Z" fill="#c98a8d"/>
<path d="M860,1530 L900,1545 L945,1600 L860,1600 Z" fill="#d49a9c"/>
<path d="M1030,1462 L1070,1455 L1070,1500 L1048,1512 L1030,1512 Z" fill="#dea3a6"/>
<path d="M1020,1405 L1070,1410 L1070,1455 L1030,1460 Z" fill="#c07e80"/>
<path d="M1025,1515 L1070,1505 L1070,1600 L1000,1600 Z" fill="#c48488"/>
<path d="M880,1400 L1000,1395 L960,1418 L880,1430 Z" fill="#cf9092"/>
</g>
</g>
<path d="M905.5,1421 C925,1417 1009,1417 1028.5,1421 L1028,1508 C1026,1540 995,1568 967.5,1582 C940,1568 908,1540 906,1508 Z" fill="#61656b" stroke="none"/>
<path d="M911,1446 C930,1443 1005,1443 1023,1446 L1022.5,1507 C1021,1535 993,1560 967.5,1574 C942,1560 913,1535 911.5,1507 Z" fill="#dcd8c6" stroke="none"/>
<rect x="950.5" y="1440" width="33" height="24" fill="#c9494c" stroke="none"/>
<path d="M951,1540 L984,1540 L984,1566 L967.5,1578 L951,1566 Z" fill="#c9494c" stroke="none"/>
<text x="966.5" y="1443" text-anchor="middle" font-family="Liberation Sans, sans-serif" font-weight="bold" font-size="19" textLength="110" lengthAdjust="spacingAndGlyphs" fill="#f5f2ec" stroke="none">DCAUTO.COM</text>
<path d="M921,1459 L945,1459 C960,1459 968,1468 968,1482 L968,1501 C968,1515 960,1524 945,1524 L921,1524 Z M934,1472 L944,1472 C951,1472 955,1476 955,1483 L955,1500 C955,1507 951,1511 944,1511 L934,1511 Z M993,1459 C1006,1459 1015,1466 1015,1478 L1015,1482 L1002,1482 L1002,1478 C1002,1474 998,1472 993,1472 C988,1472 985,1475 985,1480 L985,1503 C985,1508 988,1511 993,1511 C998,1511 1002,1509 1002,1505 L1002,1501 L1015,1501 L1015,1505 C1015,1517 1006,1524 993,1524 C979,1524 971,1517 971,1505 L971,1478 C971,1466 979,1459 993,1459 Z" fill="#60646a" fill-rule="evenodd" stroke="#dcd8c6" stroke-width="1.5"/>
<text transform="translate(969 1537.5) scale(2.1 1)" x="0" y="0" text-anchor="middle" font-family="Liberation Sans, sans-serif" font-size="13" letter-spacing="1.2" fill="none" stroke="#60646a" stroke-width="0.9">AUTO</text>
<circle cx="967" cy="1499" r="100" fill="#fff" fill-opacity="0.08" stroke="none"/>
<line x1="395.6" y1="179.7" x2="395.6" y2="224.7"/>
<line x1="561" y1="214.7" x2="561" y2="241.9"/>
<line x1="637.2" y1="258.7" x2="637.2" y2="298"/>
<line x1="704.3" y1="292.5" x2="704.3" y2="341.2"/>
<line x1="578.7" y1="411.6" x2="578.7" y2="446"/>
<line x1="627.5" y1="427.5" x2="627.5" y2="462"/>
<line x1="771.8" y1="498" x2="771.8" y2="545"/>
<line x1="351.9" y1="488" x2="351.9" y2="527.5"/>
<line x1="426.8" y1="527.5" x2="426.8" y2="555.6"/>
<line x1="504.7" y1="553" x2="504.7" y2="585"/>
<line x1="562.8" y1="560.6" x2="562.8" y2="606"/>
<line x1="606.5" y1="574.6" x2="606.5" y2="623"/>
<line x1="653.4" y1="601" x2="653.4" y2="639"/>
<line x1="694.6" y1="618" x2="694.6" y2="655.6"/>
<line x1="981.3" y1="564.9" x2="981.3" y2="616.6"/>
<line x1="517.8" y1="766" x2="517.8" y2="804.3"/>
<line x1="650.9" y1="843.7" x2="650.9" y2="862.4"/>
<line x1="731" y1="818.7" x2="731" y2="845"/>
<line x1="806.4" y1="833.7" x2="806.4" y2="857"/>
<line x1="945" y1="863" x2="945" y2="890"/>
<line x1="900" y1="953" x2="932.8" y2="953"/>
<line x1="585.8" y1="912.6" x2="585.8" y2="948"/>
<line x1="133.4" y1="1042" x2="133.4" y2="1087"/>
<line x1="198.4" y1="1042" x2="198.4" y2="1090"/>
<line x1="806.2" y1="996" x2="806.2" y2="1018.7"/>
<line x1="681.4" y1="1024" x2="681.4" y2="1058.6"/>
<line x1="897" y1="1030.6" x2="897" y2="1065"/>
<line x1="761" y1="1058.6" x2="761" y2="1097.4"/>
<line x1="945" y1="1056.5" x2="945" y2="1086.6"/>
<line x1="514" y1="1174.7" x2="514" y2="1202.8"/>
<line x1="577.2" y1="1204.7" x2="577.2" y2="1248.7"/>
<line x1="645.2" y1="1249.7" x2="645.2" y2="1307.8"/>
<line x1="709" y1="1281.2" x2="709" y2="1317.5"/>
<line x1="789.6" y1="1344.5" x2="789.6" y2="1388.3"/>
<line x1="430" y1="975.5" x2="430" y2="1009"/>
<line x1="311.5" y1="973" x2="311.5" y2="1166.8"/>
<line x1="601.2" y1="804.3" x2="640.6" y2="821.2"/>
<line x1="630.5" y1="985.3" x2="669.3" y2="998.3"/>
<line x1="858.7" y1="1007.4" x2="890.6" y2="1018.7"/>
<path d="M264.6,981 L264.6,970.3 L471.5,970.3 L471.5,981 M370.3,970.3 L370.3,963"/>
<path d="M520.6,478 L559,491.2 L561,474.3 L561,454.7 L565.6,453.7"/>
<g font-family="Liberation Sans, sans-serif" font-size="24" fill="#111" stroke="#111" stroke-width="0.35" text-anchor="middle">
<text x="395.8" y="172.5" letter-spacing="-0.6">23</text>
<text x="561.9" y="209" letter-spacing="-0.6">12</text>
<text x="638.2" y="252.2" letter-spacing="-0.6">10</text>
<text x="703.9" y="288.7" letter-spacing="-0.6">11</text>
<text x="577.2" y="405" letter-spacing="-0.6" font-weight="bold">4</text>
<text x="627.4" y="421" letter-spacing="-0.6">3</text>
<text x="774.2" y="493.4" letter-spacing="-0.6">9</text>
<text x="350.8" y="549" letter-spacing="-0.6">22</text>
<text x="426" y="576.5" letter-spacing="-0.6">1</text>
<text x="505.8" y="606.5" letter-spacing="-0.6">2</text>
<text x="564.9" y="627.6" letter-spacing="-0.6">5</text>
<text x="607" y="645.4" letter-spacing="-0.6">6</text>
<text x="652.2" y="661.8" letter-spacing="-0.6">7</text>
<text x="694.2" y="676.8" letter-spacing="-0.6">8</text>
<text x="981.7" y="559.2" letter-spacing="-0.6">20</text>
<text x="519.2" y="761.2" letter-spacing="-0.6">16</text>
<text x="729.5" y="815" letter-spacing="-0.6">14</text>
<text x="806.2" y="829" letter-spacing="-0.6">21</text>
<text x="652.2" y="882.5" letter-spacing="-0.6">15</text>
<text x="945.8" y="910.6" letter-spacing="-0.6">19</text>
<text x="586" y="908.5" letter-spacing="-0.6">13</text>
<text x="945" y="960.3" letter-spacing="-0.6">17</text>
<text x="368.4" y="959.7" letter-spacing="-0.6">24</text>
<text x="133.2" y="1037.5" letter-spacing="-0.6">28</text>
<text x="201.1" y="1039.3" letter-spacing="-0.6">30</text>
<text x="807.5" y="1041" letter-spacing="-0.6">21</text>
<text x="681.8" y="1082.3" letter-spacing="-0.6">15</text>
<text x="896.6" y="1086.6" letter-spacing="-0.6">4</text>
<text x="762.5" y="1121" letter-spacing="-0.6">14</text>
<text x="946.8" y="1112.5" letter-spacing="-0.6">18</text>
<text x="514.6" y="1169" letter-spacing="-0.6">26</text>
<text x="577.9" y="1200" letter-spacing="-0.6">25</text>
<text x="645.8" y="1244" letter-spacing="-0.6">27</text>
<text x="708.4" y="1277" letter-spacing="-0.6">29</text>
<text x="786.4" y="1340.2" letter-spacing="-0.6">31</text>
</g>
</g>
</svg>
</body></html>
